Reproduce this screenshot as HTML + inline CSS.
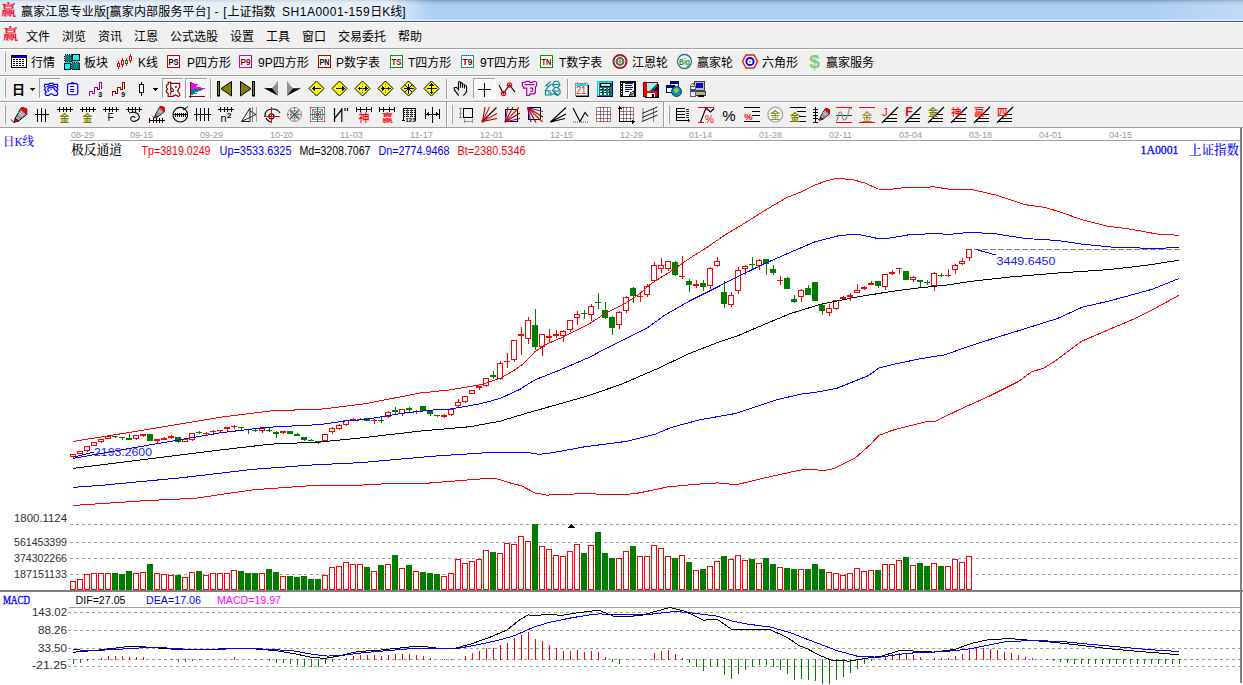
<!DOCTYPE html>
<html lang="zh"><head><meta charset="utf-8"><title>赢家江恩专业版</title>
<style>
*{box-sizing:border-box;margin:0;padding:0}
html,body{width:1243px;height:685px;overflow:hidden;background:#fff}
body{position:relative;font-family:"Liberation Sans","Noto Sans CJK SC",sans-serif;font-size:12px;color:#000}
.abs{position:absolute}
#title{left:0;top:0;width:1243px;height:21px;background:linear-gradient(#7b95b1 0,#8dabcb 1px,#9dbcde 2px,#a8c9ec 4px,#aed0f3 6px,#aed0f3 19px,#d9e8fa 20px,#dcebfc 21px)}
#title .glow{left:-10px;top:-2px;width:440px;height:24px;background:radial-gradient(ellipse 50% 60% at 50% 55%,rgba(238,243,248,.95) 0,rgba(232,239,246,.9) 70%,rgba(225,235,246,0) 100%);}
#title .glow2{left:-8px;top:-2px;width:440px;height:25px;background:linear-gradient(90deg,rgba(236,241,247,.93) 0,rgba(236,241,247,.93) 90%,rgba(236,241,247,0) 100%);filter:blur(3px)}
#tline{left:0;top:21px;width:1243px;height:1px;background:#4b5b6b}
#tline2{left:0;top:22px;width:1243px;height:1px;background:#fff}
#ui{left:0;top:23px;width:1243px;height:105px;background:#f0f0f0}
.ttext{left:21px;top:4px;font-size:12px;line-height:16px;white-space:pre;color:#000}
.logo{font-family:"Liberation Serif","Noto Serif CJK SC",serif;color:#f00828;font-weight:700}
.m{position:absolute;top:29px;line-height:16px;font-size:12px;white-space:pre}
.t{position:absolute;top:55px;line-height:16px;font-size:12px;white-space:pre}
.hl{position:absolute;left:0;width:1243px;height:1px}
svg{position:absolute;left:0;top:0;overflow:visible}
svg text{font-family:"Liberation Sans","Noto Sans CJK SC",sans-serif}
</style></head><body>
<div id="title" class="abs"><div class="abs glow2"></div><div class="abs" style="left:1150px;top:0;width:93px;height:20px;background:linear-gradient(90deg,rgba(255,255,255,0),rgba(255,255,255,.22))"></div></div>
<div id="tline" class="abs"></div><div id="tline2" class="abs"></div>
<div id="ui" class="abs"></div>
<div class="abs logo" style="left:1px;top:2px;font-size:15px;line-height:17px">赢</div>
<div class="abs ttext"><span style="letter-spacing:.16px">赢家江恩专业版[赢家内部服务平台]</span><span style="letter-spacing:.75px"> - [</span>上证指数  <span style="letter-spacing:.5px">SH1A0001-159</span>日K线]</div>
<div class="abs logo" style="left:3px;top:26px;font-size:15px;line-height:17px">赢</div>
<span class="m" style="left:26px">文件</span><span class="m" style="left:62px">浏览</span><span class="m" style="left:98px">资讯</span><span class="m" style="left:134px">江恩</span><span class="m" style="left:170px">公式选股</span><span class="m" style="left:230px">设置</span><span class="m" style="left:266px">工具</span><span class="m" style="left:302px">窗口</span><span class="m" style="left:338px">交易委托</span><span class="m" style="left:398px">帮助</span>
<div class="hl" style="top:48px;background:#a0a0a0"></div><div class="hl" style="top:49px;background:#fff"></div>
<div class="hl" style="top:75px;background:#a0a0a0"></div><div class="hl" style="top:76px;background:#fff"></div>
<div class="hl" style="top:101px;background:#a0a0a0"></div><div class="hl" style="top:102px;background:#fff"></div>
<div class="hl" style="top:127px;background:#a0a0a0"></div>
<span class="t" style="left:31px">行情</span><span class="t" style="left:84px">板块</span><span class="t" style="left:138px">K线</span><span class="t" style="left:187px">P四方形</span><span class="t" style="left:258px">9P四方形</span><span class="t" style="left:336px">P数字表</span><span class="t" style="left:408px">T四方形</span><span class="t" style="left:480px">9T四方形</span><span class="t" style="left:559px">T数字表</span><span class="t" style="left:632px">江恩轮</span><span class="t" style="left:697px">赢家轮</span><span class="t" style="left:762px">六角形</span><span class="t" style="left:826px">赢家服务</span>
<svg width="1243" height="130" viewBox="0 0 1243 130" style="position:absolute;left:0;top:0">
<g shape-rendering="crispEdges"><rect x="4" y="52" width="1" height="20" fill="#fff"/><rect x="5" y="52" width="1" height="20" fill="#a0a0a0"/></g>
<g shape-rendering="crispEdges"><rect x="4" y="79" width="1" height="19" fill="#fff"/><rect x="5" y="79" width="1" height="19" fill="#a0a0a0"/></g>
<g shape-rendering="crispEdges"><rect x="4" y="105" width="1" height="19" fill="#fff"/><rect x="5" y="105" width="1" height="19" fill="#a0a0a0"/></g>
<g shape-rendering="crispEdges"><rect x="451" y="105" width="1" height="19" fill="#fff"/><rect x="452" y="105" width="1" height="19" fill="#a0a0a0"/></g>
<g shape-rendering="crispEdges"><rect x="668" y="105" width="1" height="19" fill="#fff"/><rect x="669" y="105" width="1" height="19" fill="#a0a0a0"/></g>
<g shape-rendering="crispEdges"><rect x="210" y="79" width="1" height="20" fill="#a0a0a0"/><rect x="211" y="79" width="1" height="20" fill="#fff"/></g>
<g shape-rendering="crispEdges"><rect x="446" y="79" width="1" height="20" fill="#a0a0a0"/><rect x="447" y="79" width="1" height="20" fill="#fff"/></g>
<g shape-rendering="crispEdges"><rect x="567" y="79" width="1" height="20" fill="#a0a0a0"/><rect x="568" y="79" width="1" height="20" fill="#fff"/></g>
<g shape-rendering="crispEdges"><rect x="446" y="102" width="1" height="25" fill="#a0a0a0"/><rect x="447" y="102" width="1" height="25" fill="#fff"/></g>
<g shape-rendering="crispEdges"><rect x="663" y="102" width="1" height="25" fill="#a0a0a0"/><rect x="664" y="102" width="1" height="25" fill="#fff"/></g>
<g shape-rendering="crispEdges"><rect x="39" y="78" width="22" height="21" fill="#f9f9f9"/><rect x="39" y="78" width="22" height="1" fill="#a0a0a0"/><rect x="39" y="78" width="1" height="21" fill="#a0a0a0"/><rect x="39" y="98" width="22" height="1" fill="#fff"/><rect x="60" y="78" width="1" height="21" fill="#fff"/></g>
<g shape-rendering="crispEdges"><rect x="162" y="78" width="22" height="21" fill="#f9f9f9"/><rect x="162" y="78" width="22" height="1" fill="#a0a0a0"/><rect x="162" y="78" width="1" height="21" fill="#a0a0a0"/><rect x="162" y="98" width="22" height="1" fill="#fff"/><rect x="183" y="78" width="1" height="21" fill="#fff"/></g>
<g shape-rendering="crispEdges"><rect x="185" y="78" width="23" height="21" fill="#f9f9f9"/><rect x="185" y="78" width="23" height="1" fill="#a0a0a0"/><rect x="185" y="78" width="1" height="21" fill="#a0a0a0"/><rect x="185" y="98" width="23" height="1" fill="#fff"/><rect x="207" y="78" width="1" height="21" fill="#fff"/></g>
<g shape-rendering="crispEdges"><rect x="473" y="78" width="23" height="21" fill="#f9f9f9"/><rect x="473" y="78" width="23" height="1" fill="#a0a0a0"/><rect x="473" y="78" width="1" height="21" fill="#a0a0a0"/><rect x="473" y="98" width="23" height="1" fill="#fff"/><rect x="495" y="78" width="1" height="21" fill="#fff"/></g>
<g transform="translate(11,55)" shape-rendering="crispEdges">
<rect x="0.5" y="0.5" width="15" height="12" fill="#fff" stroke="#000" stroke-width="1"/>
<rect x="1" y="1" width="14" height="2" fill="#0000c0"/>
<rect x="2" y="4" width="2" height="1" fill="#000"/>
<rect x="5" y="4" width="2" height="1" fill="#000"/>
<rect x="8" y="4" width="2" height="1" fill="#000"/>
<rect x="11" y="4" width="2" height="1" fill="#000"/>
<rect x="2" y="6" width="2" height="1" fill="#000"/>
<rect x="5" y="6" width="2" height="1" fill="#000"/>
<rect x="8" y="6" width="2" height="1" fill="#000"/>
<rect x="11" y="6" width="2" height="1" fill="#000"/>
<rect x="2" y="8" width="2" height="1" fill="#000"/>
<rect x="5" y="8" width="2" height="1" fill="#000"/>
<rect x="8" y="8" width="2" height="1" fill="#000"/>
<rect x="11" y="8" width="2" height="1" fill="#000"/>
<rect x="2" y="10" width="2" height="1" fill="#000"/>
<rect x="5" y="10" width="2" height="1" fill="#000"/>
<rect x="8" y="10" width="2" height="1" fill="#000"/>
<rect x="11" y="10" width="2" height="1" fill="#000"/>
</g>
<g transform="translate(64,54)" shape-rendering="crispEdges">
<rect x="1" y="1" width="14" height="14" fill="#00e0e0"/>
<rect x="0.5" y="0.5" width="7" height="7" fill="#008080" stroke="#000" stroke-width="1" stroke-dasharray="1 1"/>
<rect x="8.5" y="0.5" width="7" height="6" fill="#00ffff" stroke="#000" stroke-width="1"/>
<rect x="0.5" y="9.5" width="6" height="6" fill="#00ffff" stroke="#000" stroke-width="1"/>
<rect x="7.5" y="8.5" width="8" height="7" fill="#008080" stroke="#000" stroke-width="1" stroke-dasharray="1 1"/>
</g>
<g transform="translate(117,54)" shape-rendering="crispEdges">
<rect x="1" y="7" width="1" height="8" fill="#ff0000"/>
<rect x="0.5" y="9.5" width="2" height="3" fill="#fff" stroke="#ff0000" stroke-width="1"/>
<rect x="5" y="4" width="1" height="9" fill="#ff0000"/>
<rect x="4.5" y="6.5" width="2" height="4" fill="#fff" stroke="#ff0000" stroke-width="1"/>
<rect x="9" y="4" width="1" height="8" fill="#008000"/>
<rect x="8.5" y="6.5" width="2" height="3" fill="#fff" stroke="#008000" stroke-width="1"/>
<rect x="13" y="0" width="1" height="9" fill="#ff0000"/>
<rect x="12.5" y="2.5" width="2" height="4" fill="#fff" stroke="#ff0000" stroke-width="1"/>
</g>
<g transform="translate(167,55)" shape-rendering="crispEdges">
<rect x="0.5" y="0.5" width="12" height="12" fill="#fff" stroke="#ff0000" stroke-width="1"/>
<rect x="0.5" y="0.5" width="12" height="12" fill="none" stroke="#000" stroke-width="1" stroke-dasharray="1 1" opacity="0.45"/>
</g>
<text x="173.5" y="65" font-size="8.5" fill="#000" font-weight="bold" text-anchor="middle" textLength="10" lengthAdjust="spacingAndGlyphs">PS</text>
<g transform="translate(239,55)" shape-rendering="crispEdges">
<rect x="0.5" y="0.5" width="12" height="12" fill="#fff" stroke="#ff00ff" stroke-width="1"/>
<rect x="0.5" y="0.5" width="12" height="12" fill="none" stroke="#000" stroke-width="1" stroke-dasharray="1 1" opacity="0.45"/>
</g>
<text x="245.5" y="65" font-size="8.5" fill="#900000" font-weight="bold" text-anchor="middle" textLength="10" lengthAdjust="spacingAndGlyphs">P9</text>
<g transform="translate(318,55)" shape-rendering="crispEdges">
<rect x="0.5" y="0.5" width="12" height="12" fill="#fff" stroke="#e00000" stroke-width="1"/>
<rect x="0.5" y="0.5" width="12" height="12" fill="none" stroke="#000" stroke-width="1" stroke-dasharray="1 1" opacity="0.45"/>
</g>
<text x="324.5" y="65" font-size="8.5" fill="#000" font-weight="bold" text-anchor="middle" textLength="10" lengthAdjust="spacingAndGlyphs">PN</text>
<g transform="translate(390,55)" shape-rendering="crispEdges">
<rect x="0.5" y="0.5" width="12" height="12" fill="#fff" stroke="#00c000" stroke-width="1"/>
<rect x="0.5" y="0.5" width="12" height="12" fill="none" stroke="#000" stroke-width="1" stroke-dasharray="1 1" opacity="0.45"/>
</g>
<text x="396.5" y="65" font-size="8.5" fill="#900000" font-weight="bold" text-anchor="middle" textLength="10" lengthAdjust="spacingAndGlyphs">TS</text>
<g transform="translate(461,55)" shape-rendering="crispEdges">
<rect x="0.5" y="0.5" width="12" height="12" fill="#fff" stroke="#00d0d0" stroke-width="1"/>
<rect x="0.5" y="0.5" width="12" height="12" fill="none" stroke="#000" stroke-width="1" stroke-dasharray="1 1" opacity="0.45"/>
</g>
<text x="467.5" y="65" font-size="8.5" fill="#900000" font-weight="bold" text-anchor="middle" textLength="10" lengthAdjust="spacingAndGlyphs">T9</text>
<g transform="translate(540,55)" shape-rendering="crispEdges">
<rect x="0.5" y="0.5" width="12" height="12" fill="#fff" stroke="#00c000" stroke-width="1"/>
<rect x="0.5" y="0.5" width="12" height="12" fill="none" stroke="#000" stroke-width="1" stroke-dasharray="1 1" opacity="0.45"/>
</g>
<text x="546.5" y="65" font-size="8.5" fill="#900000" font-weight="bold" text-anchor="middle" textLength="10" lengthAdjust="spacingAndGlyphs">TN</text>
<g transform="translate(0,0)">
<circle cx="620" cy="61.5" r="6.5" fill="#fff" stroke="#a01828" stroke-width="2"/>
<circle cx="620" cy="61.5" r="3.4" fill="#fff" stroke="#207838" stroke-width="2"/>
<circle cx="620" cy="61.5" r="1.2" fill="#e02020"/>
<line x1="620" y1="55" x2="620" y2="68" stroke="#c08080" stroke-width="0.6"/>
<line x1="613.5" y1="61.5" x2="626.5" y2="61.5" stroke="#c08080" stroke-width="0.6"/>
<circle cx="684.5" cy="61.5" r="7" fill="#fff" stroke="#306898" stroke-width="1.3"/>
<text x="684.5" y="65" font-size="9.5" fill="#209020" font-weight="bold" text-anchor="middle" textLength="11" lengthAdjust="spacingAndGlyphs">Big</text>
<polygon points="742.5,61.5 746,55 754,55 757.5,61.5 754,68 746,68" fill="#fff" stroke="#e02020" stroke-width="1.5"/>
<circle cx="750" cy="61.5" r="3.6" fill="#fff" stroke="#1010c0" stroke-width="2"/>
<circle cx="750" cy="61.5" r="1" fill="#40a0a0"/>
<text x="814.5" y="67.8" font-size="19" fill="#80cc70" font-weight="bold" text-anchor="middle">$</text>
</g>
<text x="12" y="94.3" font-size="13" fill="#000" font-weight="bold" text-anchor="start" style='font-family:"Liberation Sans","Noto Sans CJK SC",sans-serif'>日</text>
<g transform="translate(0,0)" shape-rendering="crispEdges">
<polygon points="30,88 35,88 32.5,90.5 " fill="#000"/>
<rect x="30" y="88" width="5" height="1" fill="#000"/>
<rect x="31" y="89" width="3" height="1" fill="#000"/>
<rect x="32" y="90" width="1" height="1" fill="#000"/>
</g>
<g transform="translate(0,0)">
<polygon points="44.5,84.3 49,84.3 49.6,83.4 52.8,83.4 53.4,84.3 57.6,84.3 57.6,86.6 56.3,87.5 57.6,88.6 57.6,90.4 55.8,90.6 57.6,92.2 57.6,94.4 56.6,95.4 54,95.4 52.2,94 50.2,94 48.6,95.4 46.2,95.4 45.2,94.4 45.2,93 46.6,92 44.3,89.6 45.6,88 44.5,86.6" fill="none" stroke="#0000ff" stroke-width="1.15"/>
<path d="M46.5,87 Q51,84.3 56,87 M47.5,90.3 Q48,87 51,87.3 Q54.5,87 55,90.3 M48,91.5 l1.5,-1 M50.5,89.5 l1,-1" fill="none" stroke="#0000ff" stroke-width="1.1"/>
<polygon points="51.2,93.2 50.4,94 52,94" fill="#0000ff"/>
</g>
<g transform="translate(0,0)">
<rect x="67.6" y="83.6" width="10.2" height="11.2" rx="1.8" fill="#f0f0f0" stroke="#0000ff" stroke-width="1.15"/>
<rect x="71" y="82.2" width="3" height="1.4" fill="#0000ff"/>
</g>
<g transform="translate(0,0)" shape-rendering="crispEdges">
<rect x="70" y="86" width="4" height="1" fill="#0000ff"/>
<rect x="70" y="89" width="4" height="1" fill="#0000ff"/>
<rect x="70" y="91" width="4" height="1" fill="#0000ff"/>
</g>
<g transform="translate(89,0)" shape-rendering="crispEdges">
<polyline points="0.5,95.5 0.5,91.5 3.5,91.5 3.5,93.5 5.5,93.5 5.5,87.5 8.5,87.5 8.5,89.5 10.5,89.5 10.5,82.5 12.5,82.5 12.5,88.5" fill="none" stroke="#a000a0" stroke-width="1.4"/>
</g>
<text x="98.3" y="96.5" font-size="7" fill="#000" font-weight="bold" text-anchor="start">3</text>
<g transform="translate(112,0)" shape-rendering="crispEdges">
<polyline points="0.5,95.5 0.5,91.5 3.5,91.5 3.5,93.5 5.5,93.5 5.5,87.5 8.5,87.5 8.5,89.5 10.5,89.5 10.5,82.5 12.5,82.5 12.5,88.5" fill="none" stroke="#a00000" stroke-width="1.4"/>
</g>
<text x="121.3" y="96.5" font-size="7" fill="#000" font-weight="bold" text-anchor="start">9</text>
<g transform="translate(0,0)" shape-rendering="crispEdges">
<rect x="141" y="82" width="1" height="14" fill="#000"/>
<rect x="139.5" y="84.5" width="4" height="8" fill="#fff" stroke="#000" stroke-width="1"/>
<polygon points="153,88 158,88 155.5,90.5" fill="#000"/>
<rect x="153" y="88" width="5" height="1" fill="#000"/>
<rect x="154" y="89" width="3" height="1" fill="#000"/>
<rect x="155" y="90" width="1" height="1" fill="#000"/>
</g>
<g transform="translate(0,0)">
<polygon points="168.2,82.4 170.7,82.4 170.7,83.4 179.7,83.4 179.7,87.3 178.5,88.5 178.5,89.7 177.3,90.9 179.7,93.7 179.7,95.7 177.9,96.5 175.7,94.9 173.3,95.7 173.3,96.5 168.2,96.5 168.2,93.3 166.4,92.1 166.4,90.5 167.3,89.7 167.3,88.5 166.4,87.5 166.4,85.4 168.2,84.4" fill="none" stroke="#900000" stroke-width="1.15"/>
<path d="M170.7,83.4 L170.7,88 M170.7,91.7 L170.7,95.5" fill="none" stroke="#900000" stroke-width="1.1"/>
<polygon points="170.7,88.5 171.7,88 173.3,89.7 173.3,91.3 171.7,91.7 170.7,90.5" fill="none" stroke="#900000" stroke-width="1.1"/>
<rect x="175" y="86.2" width="1.8" height="1.6" fill="#900000"/>
</g>
<g transform="translate(0,0)" shape-rendering="crispEdges">
<rect x="191" y="82" width="1" height="1" fill="#ff00ff"/>
<rect x="191" y="83" width="3" height="1" fill="#ff00ff"/>
<rect x="191" y="84" width="7" height="1" fill="#ff00ff"/>
<rect x="191" y="85" width="6" height="1" fill="#ff00ff"/>
<rect x="191" y="86" width="5" height="1" fill="#ff00ff"/>
<rect x="191" y="87" width="10" height="1" fill="#ff00ff"/>
<rect x="191" y="88" width="14" height="1" fill="#ff00ff"/>
<rect x="191" y="89" width="12" height="1" fill="#008080"/>
<rect x="191" y="90" width="10" height="1" fill="#008080"/>
<rect x="191" y="91" width="7" height="1" fill="#008080"/>
<rect x="191" y="92" width="4" height="1" fill="#008080"/>
<rect x="191" y="93" width="6" height="1" fill="#008080"/>
<rect x="191" y="94" width="2" height="1" fill="#008080"/>
<rect x="190" y="82" width="1" height="16" fill="#900000"/>
<rect x="189" y="96" width="16" height="1" fill="#900000"/>
</g>
<g transform="translate(0,0)">
<rect x="217.5" y="81.5" width="2" height="14.5" fill="#808000" stroke="#000" stroke-width="1"/>
<polygon points="231.5,81.5 231.5,96 221,88.7" fill="#808000" stroke="#000" stroke-width="1"/>
<polygon points="240.5,81.5 240.5,96 251,88.7" fill="#808000" stroke="#000" stroke-width="1"/>
<rect x="252.5" y="81.5" width="2" height="14.5" fill="#808000" stroke="#000" stroke-width="1"/>
<polygon points="264,88.3 278,81.2 272,88" fill="#fbfbfb"/>
<line x1="264.5" y1="88" x2="278" y2="81.2" stroke="#b0b0b0" stroke-width="0.8" stroke-dasharray="1 1"/>
<polygon points="278,81.2 278,95.8 272,88" fill="#909090"/>
<polygon points="264,88.3 272,88 278,95.8" fill="#000"/>
<polygon points="287,81.2 301,88.3 293,88.3" fill="#fbfbfb"/>
<line x1="287" y1="81.2" x2="300.5" y2="88" stroke="#b0b0b0" stroke-width="0.8" stroke-dasharray="1 1"/>
<polygon points="287,81.2 287,95.8 293,88.3" fill="#909090"/>
<polygon points="293,88.3 301,88.3 287,95.8" fill="#000"/>
</g>
<g transform="translate(0,0)">
<polygon points="309.0,88.5 316.5,81.0 324.0,88.5 316.5,96.0" fill="#ffff00" stroke="#000" stroke-width="1"/>
</g>
<g transform="translate(0,0)" shape-rendering="crispEdges">
<rect x="312.5" y="88.0" width="8" height="1" fill="#000"/>
<polygon points="311.5,88.5 314.5,85.5 314.5,91.5" fill="#000"/>
</g>
<g transform="translate(0,0)">
<polygon points="332.0,88.5 339.5,81.0 347.0,88.5 339.5,96.0" fill="#ffff00" stroke="#000" stroke-width="1"/>
</g>
<g transform="translate(0,0)" shape-rendering="crispEdges">
<rect x="335.5" y="88.0" width="8" height="1" fill="#000"/>
<polygon points="344.5,88.5 341.5,85.5 341.5,91.5" fill="#000"/>
</g>
<g transform="translate(0,0)">
<polygon points="355.0,88.5 362.5,81.0 370.0,88.5 362.5,96.0" fill="#ffff00" stroke="#000" stroke-width="1"/>
</g>
<g transform="translate(0,0)" shape-rendering="crispEdges">
<rect x="358.5" y="88.0" width="8" height="1" fill="#000"/>
<polygon points="357.5,88.5 360.0,86.0 360.0,91.0" fill="#000"/>
<polygon points="367.5,88.5 365.0,86.0 365.0,91.0" fill="#000"/>
<line x1="362.5" y1="83.5" x2="362.5" y2="93.5" stroke="#606000" stroke-width="1" stroke-dasharray="1 1"/>
</g>
<g transform="translate(0,0)">
<polygon points="378.0,88.5 385.5,81.0 393.0,88.5 385.5,96.0" fill="#ffff00" stroke="#000" stroke-width="1"/>
</g>
<g transform="translate(0,0)" shape-rendering="crispEdges">
<rect x="380.5" y="88.0" width="10" height="1" fill="#000"/>
<polygon points="384.5,88.5 382.0,86.0 382.0,91.0" fill="#000"/>
<polygon points="386.5,88.5 389.0,86.0 389.0,91.0" fill="#000"/>
<line x1="385.5" y1="83.5" x2="385.5" y2="93.5" stroke="#606000" stroke-width="1" stroke-dasharray="1 1"/>
</g>
<g transform="translate(0,0)">
<polygon points="401.0,88.5 408.5,81.0 416.0,88.5 408.5,96.0" fill="#ffff00" stroke="#000" stroke-width="1"/>
</g>
<g transform="translate(0,0)" shape-rendering="crispEdges">
<rect x="403.5" y="88.0" width="10" height="1" fill="#000"/>
<rect x="408.0" y="83.5" width="1" height="10" fill="#000"/>
<g shape-rendering="auto"><line x1="405.0" y1="85.0" x2="412.0" y2="92.0" stroke="#000"/><line x1="405.0" y1="92.0" x2="412.0" y2="85.0" stroke="#000"/></g>
</g>
<g transform="translate(0,0)">
<polygon points="424.0,88.5 431.5,81.0 439.0,88.5 431.5,96.0" fill="#ffff00" stroke="#000" stroke-width="1"/>
</g>
<g transform="translate(0,0)" shape-rendering="crispEdges">
<rect x="426.5" y="88.0" width="10" height="1" fill="#000"/>
<rect x="431.0" y="84.5" width="1" height="8" fill="#000"/>
<polygon points="431.5,82.5 429.0,85.5 434.0,85.5" fill="#000"/>
<polygon points="431.5,94.5 429.0,91.5 434.0,91.5" fill="#000"/>
</g>
<g transform="translate(0,0)">
<path d="M458.5,90.5 L458.5,82.4 Q459.5,80.6 460.5,82.4 L460.5,87.7 M461,82.8 Q462.3,82.6 462.5,84 L462.5,87.7 M463.3,84 Q464.5,84 464.5,85.5 L464.5,88.5 M465.3,85.2 Q466.6,85.6 466.6,87 L466.6,91.3 L465.5,93.3 L463.3,95.7 M458.5,89.3 L456.4,87.3 L454.3,87.7 L454.3,89.7 L458.7,95.7" fill="none" stroke="#000" stroke-width="1.1"/>
</g>
<g transform="translate(0,0)" shape-rendering="crispEdges">
<rect x="478" y="89" width="13" height="1" fill="#000"/>
<rect x="484" y="83" width="1" height="14" fill="#000"/>
</g>
<g transform="translate(0,0)">
<polyline points="499.1,85.3 503.4,93.5 509.5,85 514.9,91.8" fill="none" stroke="#000" stroke-width="1.1"/>
<circle cx="503.5" cy="93.5" r="2.1" fill="none" stroke="#ff0000" stroke-width="1.3"/>
<circle cx="509.5" cy="85" r="2.1" fill="none" stroke="#ff0000" stroke-width="1.3"/>
<polygon points="522.4,82.3 525.3,82.3 526.7,81.3 529.2,81.3 529.8,82.3 532.6,82.3 534.3,81.3 536.6,82.3 536.6,85.6 535.4,87 535.4,92.6 533.7,93.8 529.8,93.8 529.8,95.5 526.7,95.5 526.7,88.1 523.6,88.1 523.6,87 522.4,85.6" fill="none" stroke="#a000a0" stroke-width="1.2"/>
<path d="M524.5,84.6 L534.6,84.6 M529.8,88.1 L532.6,88.1 L532.6,91.2 L530,91.2" fill="none" stroke="#a000a0" stroke-width="1.1"/>
<path d="M550.5,81.3 L546,85.5 L548.5,86.5 L545.5,90.5 L545.5,95 L551,95 L551,93 L548,93 M548.5,86.5 L551.5,84 M546.5,90.8 L550.5,90.8" fill="none" stroke="#008888" stroke-width="1.15"/>
<path d="M554.5,81.3 L558,81.3 L560,85 L557.5,87.5 L560,90 L560,93.5 L557.5,95.5 L554,93.5 L552,94.5 M554.5,81.3 L552.5,85 L555,87.5 L552.5,90.5 L557.5,95 M555,87.5 L557.5,87.5 M553.5,84.5 L558.5,84.5 M553.5,91 L559,91" fill="none" stroke="#008888" stroke-width="1.1"/>
</g>
<g transform="translate(575,82)" shape-rendering="crispEdges">
<rect x="1" y="12.5" width="13" height="2" fill="#000"/>
<rect x="12" y="3" width="2" height="11.5" fill="#000"/>
<rect x="0.5" y="1.5" width="12" height="11.5" fill="#fff" stroke="#8c8c8c" stroke-width="1"/>
<polygon points="1,4 2.5,1.5 10.5,1.5 12,4" fill="#00e8e8"/>
<rect x="2" y="0" width="1" height="2" fill="#909090"/>
<rect x="10" y="0" width="1" height="2" fill="#909090"/>
</g>
<text x="581.2" y="94" font-size="10" fill="#ff0000" font-weight="normal" text-anchor="middle" textLength="10" lengthAdjust="spacingAndGlyphs">21</text>
<g transform="translate(597,81)" shape-rendering="crispEdges">
<rect x="0" y="0" width="16" height="16" fill="#000080"/>
<rect x="0" y="0" width="14.5" height="14.5" fill="#00d0d0"/>
<rect x="2" y="1.5" width="12.5" height="13" fill="#008080"/>
<rect x="1" y="1" width="1" height="13" fill="#fff" opacity="0.7"/>
<rect x="3.5" y="2.5" width="10" height="3" fill="#e0e0e0" stroke="#000" stroke-width="1"/>
<rect x="3.9" y="7.5" width="1.6" height="1.4" fill="#000"/>
<rect x="3.4" y="7" width="1.6" height="1.4" fill="#fff"/>
<rect x="7.6" y="7.5" width="1.6" height="1.4" fill="#000"/>
<rect x="7.1" y="7" width="1.6" height="1.4" fill="#fff"/>
<rect x="11.3" y="7.5" width="1.6" height="1.4" fill="#000"/>
<rect x="10.8" y="7" width="1.6" height="1.4" fill="#fff"/>
<rect x="3.9" y="10.2" width="1.6" height="1.4" fill="#000"/>
<rect x="3.4" y="9.7" width="1.6" height="1.4" fill="#fff"/>
<rect x="7.6" y="10.2" width="1.6" height="1.4" fill="#000"/>
<rect x="7.1" y="9.7" width="1.6" height="1.4" fill="#fff"/>
<rect x="11.3" y="10.2" width="1.6" height="1.4" fill="#000"/>
<rect x="10.8" y="9.7" width="1.6" height="1.4" fill="#fff"/>
<rect x="3.9" y="12.9" width="1.6" height="1.4" fill="#000"/>
<rect x="3.4" y="12.4" width="1.6" height="1.4" fill="#fff"/>
<rect x="7.6" y="12.9" width="1.6" height="1.4" fill="#000"/>
<rect x="7.1" y="12.4" width="1.6" height="1.4" fill="#fff"/>
<rect x="11.3" y="12.9" width="1.6" height="1.4" fill="#000"/>
<rect x="10.8" y="12.4" width="1.6" height="1.4" fill="#fff"/>
</g>
<g transform="translate(620,81)" shape-rendering="crispEdges">
<rect x="0" y="0" width="16" height="16" fill="#000"/>
<rect x="3" y="1.5" width="11" height="13" fill="#fff"/>
<rect x="1" y="2" width="1.2" height="1.2" fill="#fff"/>
<rect x="1" y="4.5" width="1.2" height="1.2" fill="#fff"/>
<rect x="1" y="7" width="1.2" height="1.2" fill="#fff"/>
<rect x="1" y="9.5" width="1.2" height="1.2" fill="#fff"/>
<rect x="1" y="12" width="1.2" height="1.2" fill="#fff"/>
<rect x="4.5" y="2" width="8" height="1" fill="#0000e0"/>
<rect x="4.5" y="4" width="7" height="1" fill="#0000e0"/>
<rect x="4.5" y="6.3" width="8" height="1" fill="#0000e0"/>
<rect x="4.5" y="8.3" width="7" height="1" fill="#0000e0"/>
<rect x="4.5" y="10.3" width="4" height="1" fill="#0000e0"/>
<polygon points="14,10.5 14,14.5 8.5,14.5" fill="#a0a0a0"/>
<polygon points="14,10.5 10,11.5 8.5,14.5" fill="#fff" stroke="#000" stroke-width="0.7"/>
</g>
<g transform="translate(643,82)" shape-rendering="crispEdges">
<rect x="2" y="2" width="14" height="14" fill="#000"/>
<rect x="0.5" y="0.5" width="14" height="14" fill="#ff0000" stroke="#800000" stroke-width="1"/>
<rect x="4" y="1" width="10" height="8" fill="#a0f0f0"/>
<polygon points="14,1 14,9 7,9" fill="#008040"/>
<polygon points="14,4 14,9 10,9" fill="#0000c0"/>
<rect x="4" y="11" width="8" height="4" fill="#fff"/>
<rect x="9" y="12" width="2" height="3" fill="#000"/>
</g>
<g transform="translate(666,81)" shape-rendering="crispEdges">
<rect x="4.5" y="0.5" width="8" height="7" fill="#fff" stroke="#000080" stroke-width="1"/>
<rect x="5" y="1" width="7" height="2" fill="#000080"/>
<rect x="0.5" y="4.5" width="8" height="7" fill="#fff" stroke="#000080" stroke-width="1"/>
<rect x="1" y="5" width="7" height="2" fill="#000080"/>
</g>
<g transform="translate(0,0)">
<circle cx="676.5" cy="91.5" r="5" fill="#0090c0" stroke="#004060" stroke-width="1"/>
<path d="M674,89 l3,-1 l2,2 l-2,3 l-3,-1 z" fill="#c0c020"/>
<path d="M678,93 l2,0 l-1,2 z" fill="#30a030"/>
</g>
<g transform="translate(689,81)" shape-rendering="crispEdges">
<rect x="5" y="0.5" width="10" height="9" fill="#c0c0a0" stroke="#404040" stroke-width="1"/>
<rect x="6.5" y="2" width="7" height="5" fill="#0000e0"/>
<rect x="4" y="10" width="12" height="4" fill="#b0b090" stroke="#404040" stroke-width="1"/>
<rect x="9" y="14" width="6" height="2" fill="#000"/>
<rect x="1.5" y="5.5" width="5" height="10" fill="#f0f0f0" stroke="#606060" stroke-width="1"/>
<rect x="2" y="8" width="4" height="3" fill="#2040c0"/>
<polyline points="1,5 4,2 6,5" fill="none" stroke="#606060" stroke-width="1"/>
</g>
<g transform="translate(11,107) scale(1.0)" shape-rendering="auto">
<polygon points="4,11.5 9.5,2 11,0.3 15.7,2 15.7,7.5 7.5,14" fill="#a8a8a8" stroke="#000" stroke-width="1"/>
<polygon points="9.5,2 11,0.3 15.7,2 15.7,7.5 12.5,5" fill="#ff0000" stroke="#c00000" stroke-width="0.6"/>
<polyline points="6,8.5 10,11.5" fill="none" stroke="#707070" stroke-width="1"/>
<polyline points="7.5,5.5 12,8.5" fill="none" stroke="#d0d0d0" stroke-width="1"/>
<polygon points="4,11.5 7.5,14 3,15.5" fill="#ff0000" stroke="#000" stroke-width="0.8"/>
<polyline points="0,12.5 3,15.5" fill="none" stroke="#000" stroke-width="1"/>
</g>
<g transform="translate(35,108)" shape-rendering="crispEdges">
<rect x="0" y="6" width="14" height="1" fill="#000"/>
<rect x="2" y="1" width="1" height="13" fill="#000"/>
<rect x="6" y="0" width="1" height="14" fill="#000"/>
<rect x="10" y="1" width="1" height="13" fill="#000"/>
</g>
<g transform="translate(57,107)" shape-rendering="crispEdges">
<rect x="0" y="2" width="16" height="1" fill="#000"/>
<rect x="2" y="0" width="1" height="5" fill="#000"/>
<rect x="6" y="0" width="1" height="5" fill="#000"/>
<rect x="9" y="0" width="1" height="5" fill="#000"/>
<rect x="13" y="0" width="1" height="5" fill="#000"/>
</g>
<text x="64.5" y="121.5" font-size="10" fill="#808000" font-weight="bold" text-anchor="middle" style='font-family:"Liberation Sans","Noto Sans CJK SC",sans-serif'>金</text>
<g transform="translate(80,107)" shape-rendering="crispEdges">
<rect x="0" y="2" width="16" height="1" fill="#000"/>
<rect x="2" y="0" width="1" height="5" fill="#000"/>
<rect x="6" y="0" width="1" height="5" fill="#000"/>
<rect x="9" y="0" width="1" height="5" fill="#000"/>
<rect x="13" y="0" width="1" height="5" fill="#000"/>
</g>
<text x="87.5" y="121.5" font-size="10" fill="#808000" font-weight="bold" text-anchor="middle" style='font-family:"Liberation Sans","Noto Sans CJK SC",sans-serif'>金</text>
<g transform="translate(103,107)" shape-rendering="crispEdges">
<rect x="0" y="2" width="16" height="1" fill="#000"/>
<rect x="2" y="0" width="1" height="5" fill="#000"/>
<rect x="6" y="0" width="1" height="5" fill="#000"/>
<rect x="9" y="0" width="1" height="5" fill="#000"/>
<rect x="13" y="0" width="1" height="5" fill="#000"/>
</g>
<text x="110.5" y="121" font-size="10" fill="#000" font-weight="normal" text-anchor="middle">F</text>
<g transform="translate(126,107)" shape-rendering="crispEdges">
<rect x="0" y="2" width="16" height="1" fill="#000"/>
<rect x="2" y="0" width="1" height="5" fill="#000"/>
<rect x="6" y="0" width="1" height="5" fill="#000"/>
<rect x="9" y="0" width="1" height="5" fill="#000"/>
<rect x="13" y="0" width="1" height="5" fill="#000"/>
</g>
<g transform="translate(0,0)">
<path d="M129,113 q6,-2 9,1 q3,4 -1,6.5 q-4,2 -6,-0.5 q-1,-3 2,-3.5 q2,0 2,1.5" fill="none" stroke="#000" stroke-width="1.1"/>
</g>
<g transform="translate(152,106) scale(0.78)" shape-rendering="auto">
<polygon points="4,11.5 9.5,2 11,0.3 15.7,2 15.7,7.5 7.5,14" fill="#a8a8a8" stroke="#000" stroke-width="1"/>
<polygon points="9.5,2 11,0.3 15.7,2 15.7,7.5 12.5,5" fill="#ff0000" stroke="#c00000" stroke-width="0.6"/>
<polyline points="6,8.5 10,11.5" fill="none" stroke="#707070" stroke-width="1"/>
<polyline points="7.5,5.5 12,8.5" fill="none" stroke="#d0d0d0" stroke-width="1"/>
<polygon points="4,11.5 7.5,14 3,15.5" fill="#ff0000" stroke="#000" stroke-width="0.8"/>
<polyline points="0,12.5 3,15.5" fill="none" stroke="#000" stroke-width="1"/>
</g>
<g transform="translate(149,118)" shape-rendering="crispEdges">
<rect x="0" y="2" width="16" height="1" fill="#000"/>
<rect x="0" y="0" width="1" height="5" fill="#000"/>
<rect x="4" y="0" width="1" height="5" fill="#000"/>
<rect x="7" y="0" width="1" height="5" fill="#000"/>
<rect x="10" y="0" width="1" height="5" fill="#000"/>
<rect x="13" y="0" width="1" height="5" fill="#000"/>
</g>
<g transform="translate(0,0)">
<circle cx="180.3" cy="114.7" r="7.3" fill="none" stroke="#000" stroke-width="1.1"/>
<line x1="183" y1="110" x2="188" y2="106.5" stroke="#000" stroke-width="1"/>
</g>
<g transform="translate(172,112)" shape-rendering="crispEdges">
<rect x="1" y="2" width="15" height="1" fill="#000"/>
<rect x="3" y="0.5" width="1" height="4" fill="#000"/>
<rect x="5" y="0.5" width="1" height="4" fill="#000"/>
<rect x="7" y="0.5" width="1" height="4" fill="#000"/>
<rect x="9" y="0.5" width="1" height="4" fill="#000"/>
<rect x="11" y="0.5" width="1" height="4" fill="#000"/>
<rect x="13" y="0.5" width="1" height="4" fill="#000"/>
</g>
<g transform="translate(194,108)" shape-rendering="crispEdges">
<rect x="0" y="6" width="17" height="1" fill="#000"/>
<rect x="2" y="0" width="1" height="13" fill="#000"/>
<rect x="6" y="0" width="1" height="13" fill="#000"/>
<rect x="10" y="0" width="1" height="13" fill="#000"/>
<rect x="14" y="0" width="1" height="13" fill="#000"/>
</g>
<g transform="translate(218,107)" shape-rendering="crispEdges">
<rect x="0" y="2" width="16" height="1" fill="#000"/>
<rect x="2" y="0" width="1" height="5" fill="#000"/>
<rect x="6" y="0" width="1" height="5" fill="#000"/>
<rect x="9" y="0" width="1" height="5" fill="#000"/>
<rect x="13" y="0" width="1" height="5" fill="#000"/>
</g>
<text x="220.5" y="122" font-size="11" fill="#000" font-weight="normal" text-anchor="start">n</text>
<text x="227" y="118" font-size="8" fill="#000" font-weight="bold" text-anchor="start">2</text>
<g transform="translate(0,0)">
<polygon points="241.5,121.5 250,108 250,121.5 " fill="none" stroke="#202020" stroke-width="1"/>
<polyline points="241.5,121.5 256,114.5 250,111" fill="none" stroke="#202020" stroke-width="1"/>
<line x1="252.5" y1="107" x2="252.5" y2="122" stroke="#808080" stroke-width="1"/>
<line x1="256.5" y1="107" x2="256.5" y2="122" stroke="#a0a0a0" stroke-width="1"/>
<path d="M265,116 q0,-7 7,-7 q6,0 8,4" fill="none" stroke="#000" stroke-width="1.1"/>
<circle cx="271.5" cy="116.3" r="2.6" fill="none" stroke="#000" stroke-width="1.1"/>
<path d="M266,118 q2,4 6,4" fill="none" stroke="#000" stroke-width="1.1"/>
</g>
<g transform="translate(0,0)" shape-rendering="crispEdges">
<rect x="264" y="116" width="16" height="1" fill="#ff0000"/>
<rect x="271" y="107" width="1" height="16" fill="#ff0000"/>
</g>
<g transform="translate(0,0)">
<circle cx="294.5" cy="114.5" r="7" fill="none" stroke="#909090" stroke-width="1"/>
<circle cx="294.5" cy="114.5" r="4" fill="none" stroke="#909090" stroke-width="1"/>
<line x1="290.0" y1="110.0" x2="299.0" y2="119.0" stroke="#008888" stroke-width="1.5"/>
<line x1="290.0" y1="119.0" x2="299.0" y2="110.0" stroke="#008888" stroke-width="1.5"/>
<line x1="287.0" y1="114.5" x2="302.0" y2="114.5" stroke="#ff0000" stroke-width="0.8" stroke-dasharray="2 1"/>
<line x1="294.5" y1="107.0" x2="294.5" y2="122.0" stroke="#ff0000" stroke-width="0.8" stroke-dasharray="2 1"/>
</g>
<g transform="translate(310,107)" shape-rendering="crispEdges">
<rect x="0.5" y="0.5" width="14" height="14" fill="#fff" stroke="#909090" stroke-width="1"/>
<rect x="2.5" y="2.5" width="10" height="10" fill="none" stroke="#909090" stroke-width="1"/>
<rect x="4.5" y="4.5" width="6" height="6" fill="none" stroke="#909090" stroke-width="1"/>
<rect x="0" y="7" width="15" height="1" fill="#008888"/>
<rect x="7" y="0" width="1" height="15" fill="#008888"/>
<rect x="0" y="0" width="1.4" height="1.4" fill="#ff0000"/>
<rect x="14" y="0" width="1.4" height="1.4" fill="#ff0000"/>
<rect x="0" y="14" width="1.4" height="1.4" fill="#ff0000"/>
<rect x="14" y="14" width="1.4" height="1.4" fill="#ff0000"/>
<rect x="7" y="7" width="1.4" height="1.4" fill="#ff0000"/>
<rect x="4" y="4" width="1.4" height="1.4" fill="#ff0000"/>
<rect x="10" y="4" width="1.4" height="1.4" fill="#ff0000"/>
<rect x="4" y="10" width="1.4" height="1.4" fill="#ff0000"/>
<rect x="10" y="10" width="1.4" height="1.4" fill="#ff0000"/>
</g>
<g transform="translate(0,0)">
<line x1="313" y1="110" x2="322" y2="119" stroke="#d04040" stroke-width="1"/>
<line x1="313" y1="119" x2="322" y2="110" stroke="#d04040" stroke-width="1"/>
</g>
<g transform="translate(0,0)">
<line x1="334.5" y1="108" x2="334.5" y2="122" stroke="#000" stroke-width="1.2"/>
<line x1="341.8" y1="108" x2="341.8" y2="122" stroke="#000" stroke-width="1.2"/>
<line x1="334.5" y1="118.5" x2="341.8" y2="109.5" stroke="#000" stroke-width="1.2"/>
<line x1="345" y1="108" x2="345" y2="111" stroke="#000" stroke-width="1.2"/>
<line x1="347.5" y1="108" x2="347.5" y2="111" stroke="#000" stroke-width="1.2"/>
</g>
<g transform="translate(356,107)" shape-rendering="crispEdges">
<rect x="0" y="2" width="16" height="1" fill="#000"/>
<rect x="0" y="0" width="1" height="5" fill="#000"/>
<rect x="4" y="0" width="1" height="5" fill="#000"/>
<rect x="10" y="0" width="1" height="5" fill="#000"/>
<rect x="15" y="0" width="1" height="5" fill="#000"/>
</g>
<text x="364" y="122" font-size="11" fill="#ff0000" font-weight="500" text-anchor="middle" style='font-family:"Liberation Sans","Noto Sans CJK SC",sans-serif'>神</text>
<g transform="translate(379,107)" shape-rendering="crispEdges">
<rect x="0" y="2" width="16" height="1" fill="#000"/>
<rect x="0" y="0" width="1" height="5" fill="#000"/>
<rect x="4" y="0" width="1" height="5" fill="#000"/>
<rect x="10" y="0" width="1" height="5" fill="#000"/>
<rect x="15" y="0" width="1" height="5" fill="#000"/>
</g>
<text x="387.5" y="122" font-size="11" fill="#ff0000" font-weight="500" text-anchor="middle" style='font-family:"Liberation Sans","Noto Sans CJK SC",sans-serif'>赢</text>
<g transform="translate(402,108)" shape-rendering="crispEdges">
<rect x="1" y="0" width="13" height="1" fill="#000"/>
<rect x="1" y="0" width="1" height="13" fill="#000"/>
<rect x="13" y="0" width="1" height="13" fill="#000"/>
<rect x="0" y="12" width="3" height="1" fill="#000"/>
<line x1="2" y1="2.5" x2="13" y2="2.5" stroke="#000" stroke-width="1" stroke-dasharray="1 1"/>
<line x1="2" y1="4.5" x2="13" y2="4.5" stroke="#000" stroke-width="1" stroke-dasharray="1 1"/>
<line x1="2" y1="6.5" x2="13" y2="6.5" stroke="#000" stroke-width="1" stroke-dasharray="1 1"/>
<line x1="2" y1="8.5" x2="13" y2="8.5" stroke="#000" stroke-width="1" stroke-dasharray="1 1"/>
<rect x="5" y="0" width="1" height="9" fill="#000" opacity="0.6"/>
<rect x="9" y="0" width="1" height="9" fill="#000" opacity="0.6"/>
</g>
<text x="410.5" y="122" font-size="5.5" fill="#000" font-weight="bold" text-anchor="middle" textLength="10" lengthAdjust="spacingAndGlyphs">123</text>
<g transform="translate(425,107)" shape-rendering="crispEdges">
<rect x="0" y="2" width="1" height="10" fill="#000"/>
<rect x="7" y="0" width="1" height="16" fill="#000"/>
<rect x="14" y="2" width="1" height="10" fill="#000"/>
<rect x="0" y="6.5" width="15" height="1" fill="#000"/>
<polygon points="1,7 4,4.5 4,9.5" fill="#000"/>
<polygon points="14,7 11,4.5 11,9.5" fill="#000"/>
</g>
<g transform="translate(459,107)" shape-rendering="crispEdges">
<rect x="4.5" y="1.5" width="9" height="9" fill="none" stroke="#000" stroke-width="1.3"/>
<rect x="1" y="1" width="1" height="10" fill="#909090"/>
<rect x="0" y="1" width="3" height="1" fill="#909090"/>
<rect x="0" y="5.5" width="3" height="1" fill="#909090"/>
<rect x="0" y="10" width="3" height="1" fill="#909090"/>
<rect x="5" y="12" width="1" height="4" fill="#909090"/>
<rect x="13" y="12" width="1" height="4" fill="#909090"/>
<rect x="5" y="13.5" width="9" height="1" fill="#909090"/>
</g>
<g transform="translate(0,0)">
<line x1="482.5" y1="121.5" x2="485" y2="107" stroke="#900000" stroke-width="1.1"/>
<line x1="482.5" y1="121.5" x2="489.5" y2="107" stroke="#ff0000" stroke-width="1.1"/>
<line x1="482.5" y1="121.5" x2="496.5" y2="107.5" stroke="#000" stroke-width="1.1"/>
<line x1="482.5" y1="121.5" x2="497" y2="113.5" stroke="#ff0000" stroke-width="1.1"/>
<line x1="482.5" y1="121.5" x2="497" y2="118.5" stroke="#900000" stroke-width="1.1"/>
<rect x="481.5" y="120" width="2.5" height="2.5" fill="#d00000"/>
<rect x="505.5" y="109.5" width="12" height="12" fill="none" stroke="#000" stroke-width="1" shape-rendering="crispEdges"/>
<line x1="505" y1="122" x2="508" y2="107" stroke="#8000a0" stroke-width="1.1"/>
<line x1="505" y1="122" x2="513" y2="107" stroke="#900000" stroke-width="1.1"/>
<line x1="505" y1="122" x2="519" y2="107.5" stroke="#ff0000" stroke-width="1.1"/>
<line x1="505" y1="122" x2="520" y2="113" stroke="#900000" stroke-width="1.1"/>
<line x1="505" y1="122" x2="520" y2="118.5" stroke="#8000a0" stroke-width="1.1"/>
<rect x="528.5" y="107.5" width="12" height="12" fill="none" stroke="#000" stroke-width="1" shape-rendering="crispEdges"/>
<line x1="527.5" y1="107.5" x2="531" y2="122" stroke="#8000a0" stroke-width="1.1"/>
<line x1="527.5" y1="107.5" x2="536" y2="122.5" stroke="#900000" stroke-width="1.1"/>
<line x1="527.5" y1="107.5" x2="542.5" y2="122" stroke="#ff0000" stroke-width="1.1"/>
<line x1="527.5" y1="107.5" x2="543" y2="117" stroke="#900000" stroke-width="1.1"/>
<line x1="527.5" y1="107.5" x2="543" y2="111.5" stroke="#8000a0" stroke-width="1.1"/>
<line x1="550.5" y1="122" x2="566" y2="107.5" stroke="#000" stroke-width="1.1"/>
<line x1="550.5" y1="122" x2="566" y2="114" stroke="#000" stroke-width="1.1"/>
<line x1="550.5" y1="122" x2="565" y2="118.5" stroke="#000" stroke-width="1.1"/>
<polygon points="550.5,122 554,118.5 555.5,121" fill="#000"/>
<polyline points="573,108 580,121.5 585,112.5 588,116.5" fill="none" stroke="#000" stroke-width="1.1"/>
<line x1="573" y1="122" x2="588" y2="122" stroke="#404040" stroke-width="1" stroke-dasharray="1 1"/>
</g>
<g transform="translate(596,107)" shape-rendering="crispEdges">
<rect x="0" y="0" width="15" height="15" fill="#fff"/>
<rect x="0" y="0" width="1.2" height="15" fill="#888"/>
<rect x="0" y="0" width="15" height="1.2" fill="#888"/>
<rect x="3.5" y="0" width="1.2" height="15" fill="#888"/>
<rect x="0" y="3.5" width="15" height="1.2" fill="#888"/>
<rect x="7" y="0" width="1.2" height="15" fill="#888"/>
<rect x="0" y="7" width="15" height="1.2" fill="#888"/>
<rect x="10.5" y="0" width="1.2" height="15" fill="#888"/>
<rect x="0" y="10.5" width="15" height="1.2" fill="#888"/>
<rect x="14" y="0" width="1.2" height="15" fill="#888"/>
<rect x="0" y="14" width="15" height="1.2" fill="#888"/>
<rect x="0" y="7" width="1.3" height="1.3" fill="#ff0000"/>
<rect x="3.5" y="0" width="1.3" height="1.3" fill="#ff0000"/>
<rect x="3.5" y="3.5" width="1.3" height="1.3" fill="#ff0000"/>
<rect x="3.5" y="7" width="1.3" height="1.3" fill="#ff0000"/>
<rect x="3.5" y="10.5" width="1.3" height="1.3" fill="#ff0000"/>
<rect x="3.5" y="14" width="1.3" height="1.3" fill="#ff0000"/>
<rect x="7" y="0" width="1.3" height="1.3" fill="#ff0000"/>
<rect x="7" y="7" width="1.3" height="1.3" fill="#ff0000"/>
<rect x="7" y="14" width="1.3" height="1.3" fill="#ff0000"/>
<rect x="10.5" y="0" width="1.3" height="1.3" fill="#ff0000"/>
<rect x="10.5" y="3.5" width="1.3" height="1.3" fill="#ff0000"/>
<rect x="10.5" y="7" width="1.3" height="1.3" fill="#ff0000"/>
<rect x="10.5" y="10.5" width="1.3" height="1.3" fill="#ff0000"/>
<rect x="10.5" y="14" width="1.3" height="1.3" fill="#ff0000"/>
<rect x="14" y="7" width="1.3" height="1.3" fill="#ff0000"/>
</g>
<g transform="translate(619,107)" shape-rendering="crispEdges">
<rect x="0" y="0" width="15" height="15" fill="#fff"/>
<rect x="0" y="0" width="1.2" height="15" fill="#888"/>
<rect x="0" y="0" width="15" height="1.2" fill="#888"/>
<rect x="3.5" y="0" width="1.2" height="15" fill="#888"/>
<rect x="0" y="3.5" width="15" height="1.2" fill="#888"/>
<rect x="7" y="0" width="1.2" height="15" fill="#888"/>
<rect x="0" y="7" width="15" height="1.2" fill="#888"/>
<rect x="10.5" y="0" width="1.2" height="15" fill="#888"/>
<rect x="0" y="10.5" width="15" height="1.2" fill="#888"/>
<rect x="14" y="0" width="1.2" height="15" fill="#888"/>
<rect x="0" y="14" width="15" height="1.2" fill="#888"/>
<rect x="0" y="7" width="1.3" height="1.3" fill="#ff0000"/>
<rect x="3.5" y="0" width="1.3" height="1.3" fill="#ff0000"/>
<rect x="3.5" y="3.5" width="1.3" height="1.3" fill="#ff0000"/>
<rect x="3.5" y="7" width="1.3" height="1.3" fill="#ff0000"/>
<rect x="3.5" y="10.5" width="1.3" height="1.3" fill="#ff0000"/>
<rect x="3.5" y="14" width="1.3" height="1.3" fill="#ff0000"/>
<rect x="7" y="0" width="1.3" height="1.3" fill="#ff0000"/>
<rect x="7" y="7" width="1.3" height="1.3" fill="#ff0000"/>
<rect x="7" y="14" width="1.3" height="1.3" fill="#ff0000"/>
<rect x="10.5" y="0" width="1.3" height="1.3" fill="#ff0000"/>
<rect x="10.5" y="3.5" width="1.3" height="1.3" fill="#ff0000"/>
<rect x="10.5" y="7" width="1.3" height="1.3" fill="#ff0000"/>
<rect x="10.5" y="10.5" width="1.3" height="1.3" fill="#ff0000"/>
<rect x="10.5" y="14" width="1.3" height="1.3" fill="#ff0000"/>
<rect x="14" y="7" width="1.3" height="1.3" fill="#ff0000"/>
<rect x="0" y="0" width="1.4" height="15" fill="#000"/>
<rect x="0" y="14" width="15" height="1.4" fill="#000"/>
<polygon points="0.7,-1 -1.5,2 3,2" fill="#000"/>
<polygon points="16,14.7 13,12.5 13,17" fill="#000"/>
</g>
<g transform="translate(0,0)">
<line x1="643" y1="108" x2="643" y2="122" stroke="#808080" stroke-width="1"/>
<line x1="653.5" y1="108" x2="653.5" y2="122" stroke="#808080" stroke-width="1"/>
<line x1="642" y1="113.5" x2="657.5" y2="107" stroke="#202020" stroke-width="1"/>
<line x1="642" y1="117.5" x2="657.5" y2="111" stroke="#202020" stroke-width="1"/>
<line x1="642" y1="121.5" x2="657.5" y2="115" stroke="#202020" stroke-width="1"/>
</g>
<g transform="translate(676,108)" shape-rendering="crispEdges">
<rect x="0" y="0" width="1.4" height="13" fill="#000"/>
<rect x="0" y="12" width="14" height="1.4" fill="#000"/>
<rect x="0" y="0" width="9" height="1" fill="#000"/>
<rect x="0" y="3" width="9" height="1" fill="#000"/>
<rect x="0" y="6" width="9" height="1" fill="#000"/>
<rect x="0" y="9" width="9" height="1" fill="#000"/>
<rect x="10" y="1" width="3" height="1" fill="#000" opacity="0.8"/>
<rect x="10" y="3" width="3" height="1" fill="#000" opacity="0.8"/>
<rect x="10" y="5" width="3" height="1" fill="#000" opacity="0.8"/>
<rect x="10" y="7" width="3" height="1" fill="#000" opacity="0.8"/>
<rect x="10" y="9" width="3" height="1" fill="#000" opacity="0.8"/>
<polygon points="14,12.5 11.5,10.5 11.5,14.5" fill="#000"/>
</g>
<g transform="translate(0,0)" shape-rendering="crispEdges">
<rect x="698" y="107" width="16" height="1.4" fill="#ff0000"/>
<rect x="698" y="121.5" width="6" height="1.4" fill="#ff0000"/>
</g>
<g transform="translate(0,0)">
<polyline points="700.5,122 706,108 710.5,112 714,108.5" fill="none" stroke="#000" stroke-width="1.1"/>
<text x="709.5" y="122.5" font-size="10" fill="#ff0000" font-weight="normal" text-anchor="middle">%</text>
<text x="729" y="120.7" font-size="15" fill="#000" font-weight="normal" text-anchor="middle">%</text>
</g>
<g transform="translate(744,107)" shape-rendering="crispEdges">
<rect x="0" y="0" width="16" height="1.3" fill="#000"/>
<rect x="8" y="3.5" width="8" height="1.3" fill="#000"/>
<rect x="8" y="8" width="8" height="1.3" fill="#000"/>
<rect x="0" y="14" width="16" height="1.3" fill="#000"/>
</g>
<text x="748.5" y="120" font-size="9.5" fill="#ff0000" font-weight="bold" text-anchor="middle">%</text>
<g transform="translate(0,0)">
<circle cx="775.3" cy="114.6" r="7.4" fill="#f8f8f8" stroke="#a0a0a0" stroke-width="1.2"/>
</g>
<text x="775.3" y="119" font-size="10.5" fill="#808000" font-weight="normal" text-anchor="middle" style='font-family:"Liberation Sans","Noto Sans CJK SC",sans-serif'>金</text>
<g transform="translate(790,107)" shape-rendering="crispEdges">
<rect x="0" y="0" width="16" height="1.3" fill="#000"/>
<rect x="7" y="3.5" width="9" height="1.3" fill="#000"/>
<rect x="9" y="8.5" width="7" height="1.3" fill="#000"/>
<rect x="0" y="14" width="16" height="1.3" fill="#000"/>
</g>
<text x="795" y="120.5" font-size="10" fill="#808000" font-weight="bold" text-anchor="middle" style='font-family:"Liberation Sans","Noto Sans CJK SC",sans-serif'>金</text>
<g transform="translate(813,107)" shape-rendering="crispEdges">
<rect x="2" y="0" width="1" height="16" fill="#000"/>
<rect x="0" y="2" width="5" height="1" fill="#000"/>
<rect x="0" y="5" width="5" height="1" fill="#000"/>
<rect x="0" y="8" width="5" height="1" fill="#000"/>
<rect x="0" y="11" width="5" height="1" fill="#000"/>
<rect x="0" y="15" width="5" height="1" fill="#000"/>
</g>
<g transform="translate(817,108) scale(0.8)" shape-rendering="auto">
<polygon points="4,11.5 9.5,2 11,0.3 15.7,2 15.7,7.5 7.5,14" fill="#a8a8a8" stroke="#000" stroke-width="1"/>
<polygon points="9.5,2 11,0.3 15.7,2 15.7,7.5 12.5,5" fill="#ff0000" stroke="#c00000" stroke-width="0.6"/>
<polyline points="6,8.5 10,11.5" fill="none" stroke="#707070" stroke-width="1"/>
<polyline points="7.5,5.5 12,8.5" fill="none" stroke="#d0d0d0" stroke-width="1"/>
<polygon points="4,11.5 7.5,14 3,15.5" fill="#ff0000" stroke="#000" stroke-width="0.8"/>
<polyline points="0,12.5 3,15.5" fill="none" stroke="#000" stroke-width="1"/>
</g>
<g transform="translate(836,107)" shape-rendering="crispEdges">
<rect x="0" y="0" width="16" height="1.3" fill="#ff0000"/>
<rect x="0" y="15" width="16" height="1.3" fill="#ff0000"/>
<rect x="0" y="7.5" width="16" height="1" fill="#303030"/>
</g>
<g transform="translate(0,0)">
<path d="M836,121 q1,0 2,-4 q2,-9 4,-2 q1,7 4,4 q2,-3 3,-9 q1,-3 3,-1" fill="none" stroke="#909090" stroke-width="1.2"/>
</g>
<g transform="translate(859,107)" shape-rendering="crispEdges">
<rect x="0" y="0" width="16" height="1.3" fill="#ff0000"/>
<rect x="0" y="15" width="16" height="1.3" fill="#ff0000"/>
</g>
<text x="867" y="120.5" font-size="11" fill="#808000" font-weight="normal" text-anchor="middle" style='font-family:"Liberation Sans","Noto Sans CJK SC",sans-serif'>金</text>
<g transform="translate(0,0)">
<line x1="882" y1="122.7" x2="898" y2="107" stroke="#000" stroke-width="1.2"/>
</g>
<g transform="translate(0,0)" shape-rendering="crispEdges">
<rect x="890.5" y="114" width="6.5" height="1.3" fill="#000"/>
<rect x="887" y="117.7" width="10" height="1.3" fill="#000"/>
<rect x="883.5" y="121" width="13.5" height="1.3" fill="#000"/>
</g>
<text x="882" y="115.7" font-size="11.5" fill="#ff0000" font-weight="normal" text-anchor="start">J</text>
<g transform="translate(0,0)">
<line x1="905" y1="122.7" x2="921" y2="107" stroke="#000" stroke-width="1.2"/>
</g>
<g transform="translate(0,0)" shape-rendering="crispEdges">
<rect x="913.5" y="114" width="6.5" height="1.3" fill="#000"/>
<rect x="910" y="117.7" width="10" height="1.3" fill="#000"/>
<rect x="906.5" y="121" width="13.5" height="1.3" fill="#000"/>
</g>
<text x="905.3" y="116.3" font-size="12.5" fill="#ff0000" font-weight="bold" text-anchor="start">F</text>
<g transform="translate(0,0)">
<line x1="928" y1="122.7" x2="944" y2="107" stroke="#000" stroke-width="1.2"/>
</g>
<g transform="translate(0,0)" shape-rendering="crispEdges">
<rect x="936.5" y="114" width="6.5" height="1.3" fill="#000"/>
<rect x="933" y="117.7" width="10" height="1.3" fill="#000"/>
<rect x="929.5" y="121" width="13.5" height="1.3" fill="#000"/>
</g>
<text x="928" y="116" font-size="10" fill="#808000" font-weight="bold" text-anchor="start" style='font-family:"Liberation Sans","Noto Sans CJK SC",sans-serif'>金</text>
<g transform="translate(0,0)">
<line x1="951" y1="122.7" x2="967" y2="107" stroke="#000" stroke-width="1.2"/>
</g>
<g transform="translate(0,0)" shape-rendering="crispEdges">
<rect x="959.5" y="114" width="6.5" height="1.3" fill="#000"/>
<rect x="956" y="117.7" width="10" height="1.3" fill="#000"/>
<rect x="952.5" y="121" width="13.5" height="1.3" fill="#000"/>
</g>
<text x="951" y="116" font-size="10.5" fill="#ff0000" font-weight="500" text-anchor="start" style='font-family:"Liberation Sans","Noto Sans CJK SC",sans-serif'>神</text>
<g transform="translate(0,0)">
<line x1="974" y1="122.7" x2="990" y2="107" stroke="#000" stroke-width="1.2"/>
</g>
<g transform="translate(0,0)" shape-rendering="crispEdges">
<rect x="982.5" y="114" width="6.5" height="1.3" fill="#000"/>
<rect x="979" y="117.7" width="10" height="1.3" fill="#000"/>
<rect x="975.5" y="121" width="13.5" height="1.3" fill="#000"/>
</g>
<text x="974" y="116" font-size="10.5" fill="#ff0000" font-weight="500" text-anchor="start" style='font-family:"Liberation Sans","Noto Sans CJK SC",sans-serif'>赢</text>
<g transform="translate(0,0)">
<line x1="997" y1="122.7" x2="1013" y2="107" stroke="#000" stroke-width="1.2"/>
</g>
<g transform="translate(0,0)" shape-rendering="crispEdges">
<rect x="1005.5" y="114" width="6.5" height="1.3" fill="#000"/>
<rect x="1002" y="117.7" width="10" height="1.3" fill="#000"/>
<rect x="998.5" y="121" width="13.5" height="1.3" fill="#000"/>
</g>
<text x="997" y="116" font-size="10.5" fill="#ff0000" font-weight="500" text-anchor="start" style='font-family:"Liberation Sans","Noto Sans CJK SC",sans-serif'>四</text>
</svg><svg width="1243" height="685" viewBox="0 0 1243 685">
<rect x="0" y="128" width="1243" height="557" fill="#fff"/>
<g shape-rendering="crispEdges">
<rect x="1240" y="128" width="2" height="555" fill="#808080"/>
<rect x="70" y="140" width="1170" height="1" fill="#a0a0a0"/>
<rect x="0" y="590" width="1243" height="2" fill="#808080"/>
<rect x="69" y="607" width="1171" height="1" fill="#a0a0a0"/>
<line x1="70" y1="524.5" x2="1240" y2="524.5" stroke="#a0a0a0" stroke-width="1" stroke-dasharray="3 3"/>
<line x1="70" y1="542.5" x2="1240" y2="542.5" stroke="#a0a0a0" stroke-width="1" stroke-dasharray="3 3"/>
<line x1="70" y1="558.5" x2="1240" y2="558.5" stroke="#a0a0a0" stroke-width="1" stroke-dasharray="3 3"/>
<line x1="70" y1="574.5" x2="1240" y2="574.5" stroke="#a0a0a0" stroke-width="1" stroke-dasharray="3 3"/>
<line x1="68" y1="612.5" x2="1240" y2="612.5" stroke="#a0a0a0" stroke-width="1" stroke-dasharray="3 3"/>
<line x1="68" y1="630.5" x2="1240" y2="630.5" stroke="#a0a0a0" stroke-width="1" stroke-dasharray="3 3"/>
<line x1="68" y1="648.5" x2="1240" y2="648.5" stroke="#a0a0a0" stroke-width="1" stroke-dasharray="3 3"/>
<line x1="68" y1="659.5" x2="1240" y2="659.5" stroke="#a0a0a0" stroke-width="1" stroke-dasharray="3 3"/>
<line x1="68" y1="666.5" x2="1240" y2="666.5" stroke="#a0a0a0" stroke-width="1" stroke-dasharray="3 3"/>
<rect x="70.5" y="581.5" width="5" height="8" fill="#fff" stroke="#ff0000"/>
<rect x="77.5" y="579.5" width="5" height="10" fill="#fff" stroke="#ff0000"/>
<rect x="84.5" y="574.5" width="5" height="15" fill="#fff" stroke="#ff0000"/>
<rect x="91.5" y="573.5" width="5" height="16" fill="#fff" stroke="#ff0000"/>
<rect x="98.5" y="573.5" width="5" height="16" fill="#fff" stroke="#ff0000"/>
<rect x="105.5" y="573.5" width="5" height="16" fill="#fff" stroke="#ff0000"/>
<rect x="112" y="573" width="6" height="17" fill="#007c00"/>
<rect x="119" y="574" width="6" height="16" fill="#007c00"/>
<rect x="126" y="571" width="6" height="19" fill="#007c00"/>
<rect x="133.5" y="573.5" width="5" height="16" fill="#fff" stroke="#ff0000"/>
<rect x="140.5" y="572.5" width="5" height="17" fill="#fff" stroke="#ff0000"/>
<rect x="147" y="564" width="6" height="26" fill="#007c00"/>
<rect x="154.5" y="573.5" width="5" height="16" fill="#fff" stroke="#ff0000"/>
<rect x="161.5" y="574.5" width="5" height="15" fill="#fff" stroke="#ff0000"/>
<rect x="168.5" y="575.5" width="5" height="14" fill="#fff" stroke="#ff0000"/>
<rect x="175" y="575" width="6" height="15" fill="#007c00"/>
<rect x="182.5" y="577.5" width="5" height="12" fill="#fff" stroke="#ff0000"/>
<rect x="189.5" y="572.5" width="5" height="17" fill="#fff" stroke="#ff0000"/>
<rect x="196" y="571" width="6" height="19" fill="#007c00"/>
<rect x="203.5" y="575.5" width="5" height="14" fill="#fff" stroke="#ff0000"/>
<rect x="210.5" y="573.5" width="5" height="16" fill="#fff" stroke="#ff0000"/>
<rect x="217.5" y="573.5" width="5" height="16" fill="#fff" stroke="#ff0000"/>
<rect x="224.5" y="573.5" width="5" height="16" fill="#fff" stroke="#ff0000"/>
<rect x="231.5" y="570.5" width="5" height="19" fill="#fff" stroke="#ff0000"/>
<rect x="238" y="571" width="6" height="19" fill="#007c00"/>
<rect x="245" y="573" width="6" height="17" fill="#007c00"/>
<rect x="252" y="573" width="6" height="17" fill="#007c00"/>
<rect x="259.5" y="573.5" width="5" height="16" fill="#fff" stroke="#ff0000"/>
<rect x="266" y="569" width="6" height="21" fill="#007c00"/>
<rect x="273" y="572" width="6" height="18" fill="#007c00"/>
<rect x="280.5" y="576.5" width="5" height="13" fill="#fff" stroke="#ff0000"/>
<rect x="287" y="576" width="6" height="14" fill="#007c00"/>
<rect x="294" y="577" width="6" height="13" fill="#007c00"/>
<rect x="301" y="576" width="6" height="14" fill="#007c00"/>
<rect x="308" y="579" width="6" height="11" fill="#007c00"/>
<rect x="315" y="579" width="6" height="11" fill="#007c00"/>
<rect x="322.5" y="575.5" width="5" height="14" fill="#fff" stroke="#ff0000"/>
<rect x="329.5" y="567.5" width="5" height="22" fill="#fff" stroke="#ff0000"/>
<rect x="336.5" y="566.5" width="5" height="23" fill="#fff" stroke="#ff0000"/>
<rect x="343.5" y="562.5" width="5" height="27" fill="#fff" stroke="#ff0000"/>
<rect x="350.5" y="564.5" width="5" height="25" fill="#fff" stroke="#ff0000"/>
<rect x="357.5" y="564.5" width="5" height="25" fill="#fff" stroke="#ff0000"/>
<rect x="364" y="567" width="6" height="23" fill="#007c00"/>
<rect x="371.5" y="571.5" width="5" height="18" fill="#fff" stroke="#ff0000"/>
<rect x="378" y="565" width="6" height="25" fill="#007c00"/>
<rect x="385.5" y="564.5" width="5" height="25" fill="#fff" stroke="#ff0000"/>
<rect x="392" y="555" width="6" height="35" fill="#007c00"/>
<rect x="399.5" y="568.5" width="5" height="21" fill="#fff" stroke="#ff0000"/>
<rect x="406" y="565" width="6" height="25" fill="#007c00"/>
<rect x="413.5" y="571.5" width="5" height="18" fill="#fff" stroke="#ff0000"/>
<rect x="420" y="572" width="6" height="18" fill="#007c00"/>
<rect x="427" y="573" width="6" height="17" fill="#007c00"/>
<rect x="434" y="574" width="6" height="16" fill="#007c00"/>
<rect x="441.5" y="576.5" width="5" height="13" fill="#fff" stroke="#ff0000"/>
<rect x="448.5" y="573.5" width="5" height="16" fill="#fff" stroke="#ff0000"/>
<rect x="455.5" y="559.5" width="5" height="30" fill="#fff" stroke="#ff0000"/>
<rect x="462.5" y="563.5" width="5" height="26" fill="#fff" stroke="#ff0000"/>
<rect x="469.5" y="561.5" width="5" height="28" fill="#fff" stroke="#ff0000"/>
<rect x="476.5" y="559.5" width="5" height="30" fill="#fff" stroke="#ff0000"/>
<rect x="483.5" y="550.5" width="5" height="39" fill="#fff" stroke="#ff0000"/>
<rect x="490" y="552" width="6" height="38" fill="#007c00"/>
<rect x="497.5" y="553.5" width="5" height="36" fill="#fff" stroke="#ff0000"/>
<rect x="504.5" y="543.5" width="5" height="46" fill="#fff" stroke="#ff0000"/>
<rect x="511.5" y="544.5" width="5" height="45" fill="#fff" stroke="#ff0000"/>
<rect x="518.5" y="536.5" width="5" height="53" fill="#fff" stroke="#ff0000"/>
<rect x="525.5" y="541.5" width="5" height="48" fill="#fff" stroke="#ff0000"/>
<rect x="532" y="524" width="6" height="66" fill="#007c00"/>
<rect x="539.5" y="546.5" width="5" height="43" fill="#fff" stroke="#ff0000"/>
<rect x="546.5" y="549.5" width="5" height="40" fill="#fff" stroke="#ff0000"/>
<rect x="553.5" y="555.5" width="5" height="34" fill="#fff" stroke="#ff0000"/>
<rect x="560.5" y="556.5" width="5" height="33" fill="#fff" stroke="#ff0000"/>
<rect x="567.5" y="551.5" width="5" height="38" fill="#fff" stroke="#ff0000"/>
<rect x="574.5" y="544.5" width="5" height="45" fill="#fff" stroke="#ff0000"/>
<rect x="581" y="553" width="6" height="37" fill="#007c00"/>
<rect x="588.5" y="545.5" width="5" height="44" fill="#fff" stroke="#ff0000"/>
<rect x="595" y="532" width="6" height="58" fill="#007c00"/>
<rect x="602" y="553" width="6" height="37" fill="#007c00"/>
<rect x="609" y="558" width="6" height="32" fill="#007c00"/>
<rect x="616.5" y="558.5" width="5" height="31" fill="#fff" stroke="#ff0000"/>
<rect x="623.5" y="551.5" width="5" height="38" fill="#fff" stroke="#ff0000"/>
<rect x="630" y="546" width="6" height="44" fill="#007c00"/>
<rect x="637.5" y="556.5" width="5" height="33" fill="#fff" stroke="#ff0000"/>
<rect x="644.5" y="556.5" width="5" height="33" fill="#fff" stroke="#ff0000"/>
<rect x="651.5" y="545.5" width="5" height="44" fill="#fff" stroke="#ff0000"/>
<rect x="658.5" y="548.5" width="5" height="41" fill="#fff" stroke="#ff0000"/>
<rect x="665.5" y="556.5" width="5" height="33" fill="#fff" stroke="#ff0000"/>
<rect x="672" y="558" width="6" height="32" fill="#007c00"/>
<rect x="679.5" y="555.5" width="5" height="34" fill="#fff" stroke="#ff0000"/>
<rect x="686" y="562" width="6" height="28" fill="#007c00"/>
<rect x="693.5" y="570.5" width="5" height="19" fill="#fff" stroke="#ff0000"/>
<rect x="700" y="569" width="6" height="21" fill="#007c00"/>
<rect x="707.5" y="566.5" width="5" height="23" fill="#fff" stroke="#ff0000"/>
<rect x="714.5" y="561.5" width="5" height="28" fill="#fff" stroke="#ff0000"/>
<rect x="721" y="556" width="6" height="34" fill="#007c00"/>
<rect x="728.5" y="559.5" width="5" height="30" fill="#fff" stroke="#ff0000"/>
<rect x="735.5" y="555.5" width="5" height="34" fill="#fff" stroke="#ff0000"/>
<rect x="742.5" y="560.5" width="5" height="29" fill="#fff" stroke="#ff0000"/>
<rect x="749" y="559" width="6" height="31" fill="#007c00"/>
<rect x="756.5" y="563.5" width="5" height="26" fill="#fff" stroke="#ff0000"/>
<rect x="763" y="558" width="6" height="32" fill="#007c00"/>
<rect x="770" y="564" width="6" height="26" fill="#007c00"/>
<rect x="777.5" y="567.5" width="5" height="22" fill="#fff" stroke="#ff0000"/>
<rect x="784" y="568" width="6" height="22" fill="#007c00"/>
<rect x="791" y="569" width="6" height="21" fill="#007c00"/>
<rect x="798.5" y="569.5" width="5" height="20" fill="#fff" stroke="#ff0000"/>
<rect x="805" y="569" width="6" height="21" fill="#007c00"/>
<rect x="812" y="564" width="6" height="26" fill="#007c00"/>
<rect x="819" y="569" width="6" height="21" fill="#007c00"/>
<rect x="826.5" y="572.5" width="5" height="17" fill="#fff" stroke="#ff0000"/>
<rect x="833.5" y="573.5" width="5" height="16" fill="#fff" stroke="#ff0000"/>
<rect x="840.5" y="575.5" width="5" height="14" fill="#fff" stroke="#ff0000"/>
<rect x="847.5" y="573.5" width="5" height="16" fill="#fff" stroke="#ff0000"/>
<rect x="854.5" y="568.5" width="5" height="21" fill="#fff" stroke="#ff0000"/>
<rect x="861.5" y="571.5" width="5" height="18" fill="#fff" stroke="#ff0000"/>
<rect x="868.5" y="570.5" width="5" height="19" fill="#fff" stroke="#ff0000"/>
<rect x="875" y="570" width="6" height="20" fill="#007c00"/>
<rect x="882.5" y="564.5" width="5" height="25" fill="#fff" stroke="#ff0000"/>
<rect x="889.5" y="564.5" width="5" height="25" fill="#fff" stroke="#ff0000"/>
<rect x="896.5" y="560.5" width="5" height="29" fill="#fff" stroke="#ff0000"/>
<rect x="903" y="557" width="6" height="33" fill="#007c00"/>
<rect x="910.5" y="565.5" width="5" height="24" fill="#fff" stroke="#ff0000"/>
<rect x="917" y="563" width="6" height="27" fill="#007c00"/>
<rect x="924" y="566" width="6" height="24" fill="#007c00"/>
<rect x="931.5" y="563.5" width="5" height="26" fill="#fff" stroke="#ff0000"/>
<rect x="938" y="566" width="6" height="24" fill="#007c00"/>
<rect x="945.5" y="566.5" width="5" height="23" fill="#fff" stroke="#ff0000"/>
<rect x="952.5" y="559.5" width="5" height="30" fill="#fff" stroke="#ff0000"/>
<rect x="959.5" y="562.5" width="5" height="27" fill="#fff" stroke="#ff0000"/>
<rect x="966.5" y="556.5" width="5" height="33" fill="#fff" stroke="#ff0000"/>
<rect x="73" y="454" width="1" height="5" fill="#ff0000"/>
<rect x="70.5" y="454.5" width="5" height="2" fill="#fff" stroke="#ff0000"/>
<rect x="80" y="451" width="1" height="3" fill="#ff0000"/>
<rect x="77.5" y="451.5" width="5" height="2" fill="#fff" stroke="#ff0000"/>
<rect x="87" y="446" width="1" height="6" fill="#ff0000"/>
<rect x="84.5" y="446.5" width="5" height="4" fill="#fff" stroke="#ff0000"/>
<rect x="94" y="442" width="1" height="4" fill="#ff0000"/>
<rect x="91.5" y="442.5" width="5" height="3" fill="#fff" stroke="#ff0000"/>
<rect x="101" y="439" width="1" height="4" fill="#ff0000"/>
<rect x="98.5" y="439.5" width="5" height="2" fill="#fff" stroke="#ff0000"/>
<rect x="108" y="436" width="1" height="3" fill="#ff0000"/>
<rect x="105.5" y="436.5" width="5" height="2" fill="#fff" stroke="#ff0000"/>
<rect x="115" y="436" width="1" height="2" fill="#007c00"/>
<rect x="112" y="436" width="6" height="1" fill="#007c00"/>
<rect x="122" y="437" width="1" height="3" fill="#007c00"/>
<rect x="119" y="437" width="6" height="1" fill="#007c00"/>
<rect x="129" y="434" width="1" height="6" fill="#007c00"/>
<rect x="126" y="438" width="6" height="2" fill="#007c00"/>
<rect x="136" y="435" width="1" height="5" fill="#ff0000"/>
<rect x="133.5" y="435.5" width="5" height="3" fill="#fff" stroke="#ff0000"/>
<rect x="143" y="434" width="1" height="3" fill="#ff0000"/>
<rect x="140" y="434" width="6" height="2" fill="#ff0000"/>
<rect x="150" y="434" width="1" height="7" fill="#007c00"/>
<rect x="147" y="434" width="6" height="7" fill="#007c00"/>
<rect x="157" y="439" width="1" height="4" fill="#ff0000"/>
<rect x="154" y="439" width="6" height="2" fill="#ff0000"/>
<rect x="164" y="437" width="1" height="3" fill="#ff0000"/>
<rect x="161" y="438" width="6" height="2" fill="#ff0000"/>
<rect x="171" y="435" width="1" height="4" fill="#ff0000"/>
<rect x="168" y="436" width="6" height="2" fill="#ff0000"/>
<rect x="178" y="437" width="1" height="6" fill="#007c00"/>
<rect x="175" y="437" width="6" height="5" fill="#007c00"/>
<rect x="185" y="439" width="1" height="3" fill="#ff0000"/>
<rect x="182.5" y="439.5" width="5" height="2" fill="#fff" stroke="#ff0000"/>
<rect x="192" y="433" width="1" height="8" fill="#ff0000"/>
<rect x="189.5" y="433.5" width="5" height="6" fill="#fff" stroke="#ff0000"/>
<rect x="199" y="431" width="1" height="3" fill="#007c00"/>
<rect x="196" y="432" width="6" height="1" fill="#007c00"/>
<rect x="206" y="432" width="1" height="4" fill="#ff0000"/>
<rect x="203" y="433" width="6" height="1" fill="#ff0000"/>
<rect x="213" y="430" width="1" height="3" fill="#ff0000"/>
<rect x="210" y="431" width="6" height="1" fill="#ff0000"/>
<rect x="220" y="430" width="1" height="2" fill="#ff0000"/>
<rect x="217" y="430" width="6" height="1" fill="#ff0000"/>
<rect x="227" y="427" width="1" height="4" fill="#ff0000"/>
<rect x="224" y="427" width="6" height="2" fill="#ff0000"/>
<rect x="234" y="425" width="1" height="4" fill="#ff0000"/>
<rect x="231" y="426" width="6" height="1" fill="#ff0000"/>
<rect x="241" y="427" width="1" height="3" fill="#007c00"/>
<rect x="238" y="427" width="6" height="1" fill="#007c00"/>
<rect x="248" y="430" width="1" height="4" fill="#007c00"/>
<rect x="255" y="429" width="1" height="3" fill="#007c00"/>
<rect x="252" y="430" width="6" height="1" fill="#007c00"/>
<rect x="262" y="428" width="1" height="5" fill="#ff0000"/>
<rect x="259.5" y="428.5" width="5" height="2" fill="#fff" stroke="#ff0000"/>
<rect x="269" y="427" width="1" height="5" fill="#007c00"/>
<rect x="266" y="430" width="6" height="1" fill="#007c00"/>
<rect x="276" y="431" width="1" height="7" fill="#007c00"/>
<rect x="273" y="432" width="6" height="2" fill="#007c00"/>
<rect x="283" y="431" width="1" height="3" fill="#ff0000"/>
<rect x="280" y="431" width="6" height="2" fill="#ff0000"/>
<rect x="290" y="431" width="1" height="3" fill="#007c00"/>
<rect x="287" y="431" width="6" height="3" fill="#007c00"/>
<rect x="297" y="433" width="1" height="3" fill="#007c00"/>
<rect x="294" y="434" width="6" height="2" fill="#007c00"/>
<rect x="304" y="437" width="1" height="4" fill="#007c00"/>
<rect x="301" y="437" width="6" height="3" fill="#007c00"/>
<rect x="311" y="439" width="1" height="2" fill="#007c00"/>
<rect x="308" y="440" width="6" height="1" fill="#007c00"/>
<rect x="318" y="441" width="1" height="3" fill="#007c00"/>
<rect x="315" y="441" width="6" height="2" fill="#007c00"/>
<rect x="325" y="434" width="1" height="7" fill="#ff0000"/>
<rect x="322.5" y="434.5" width="5" height="6" fill="#fff" stroke="#ff0000"/>
<rect x="332" y="427" width="1" height="7" fill="#ff0000"/>
<rect x="329.5" y="428.5" width="5" height="3" fill="#fff" stroke="#ff0000"/>
<rect x="339" y="424" width="1" height="6" fill="#ff0000"/>
<rect x="336.5" y="425.5" width="5" height="3" fill="#fff" stroke="#ff0000"/>
<rect x="346" y="420" width="1" height="6" fill="#ff0000"/>
<rect x="343.5" y="420.5" width="5" height="4" fill="#fff" stroke="#ff0000"/>
<rect x="353" y="418" width="1" height="2" fill="#ff0000"/>
<rect x="350" y="419" width="6" height="1" fill="#ff0000"/>
<rect x="360" y="418" width="1" height="2" fill="#ff0000"/>
<rect x="357" y="419" width="6" height="1" fill="#ff0000"/>
<rect x="367" y="418" width="1" height="3" fill="#007c00"/>
<rect x="364" y="418" width="6" height="3" fill="#007c00"/>
<rect x="374" y="419" width="1" height="5" fill="#ff0000"/>
<rect x="371" y="420" width="6" height="1" fill="#ff0000"/>
<rect x="381" y="417" width="1" height="6" fill="#007c00"/>
<rect x="378" y="420" width="6" height="1" fill="#007c00"/>
<rect x="388" y="411" width="1" height="7" fill="#ff0000"/>
<rect x="385.5" y="412.5" width="5" height="4" fill="#fff" stroke="#ff0000"/>
<rect x="395" y="407" width="1" height="8" fill="#007c00"/>
<rect x="392" y="410" width="6" height="2" fill="#007c00"/>
<rect x="402" y="409" width="1" height="7" fill="#ff0000"/>
<rect x="399.5" y="409.5" width="5" height="4" fill="#fff" stroke="#ff0000"/>
<rect x="409" y="407" width="1" height="5" fill="#007c00"/>
<rect x="406" y="408" width="6" height="2" fill="#007c00"/>
<rect x="416" y="410" width="1" height="4" fill="#ff0000"/>
<rect x="413" y="411" width="6" height="1" fill="#ff0000"/>
<rect x="423" y="406" width="1" height="5" fill="#007c00"/>
<rect x="420" y="406" width="6" height="5" fill="#007c00"/>
<rect x="430" y="410" width="1" height="6" fill="#007c00"/>
<rect x="427" y="410" width="6" height="4" fill="#007c00"/>
<rect x="437" y="415" width="1" height="2" fill="#007c00"/>
<rect x="434" y="415" width="6" height="1" fill="#007c00"/>
<rect x="444" y="414" width="1" height="4" fill="#ff0000"/>
<rect x="441" y="415" width="6" height="2" fill="#ff0000"/>
<rect x="451" y="409" width="1" height="7" fill="#ff0000"/>
<rect x="448.5" y="409.5" width="5" height="5" fill="#fff" stroke="#ff0000"/>
<rect x="458" y="399" width="1" height="8" fill="#ff0000"/>
<rect x="455.5" y="402.5" width="5" height="3" fill="#fff" stroke="#ff0000"/>
<rect x="465" y="396" width="1" height="7" fill="#ff0000"/>
<rect x="462.5" y="396.5" width="5" height="5" fill="#fff" stroke="#ff0000"/>
<rect x="472" y="390" width="1" height="4" fill="#ff0000"/>
<rect x="469.5" y="390.5" width="5" height="3" fill="#fff" stroke="#ff0000"/>
<rect x="479" y="386" width="1" height="4" fill="#ff0000"/>
<rect x="476.5" y="386.5" width="5" height="1" fill="#fff" stroke="#ff0000"/>
<rect x="486" y="378" width="1" height="9" fill="#ff0000"/>
<rect x="483.5" y="378.5" width="5" height="7" fill="#fff" stroke="#ff0000"/>
<rect x="493" y="371" width="1" height="8" fill="#007c00"/>
<rect x="490" y="375" width="6" height="2" fill="#007c00"/>
<rect x="500" y="361" width="1" height="19" fill="#ff0000"/>
<rect x="497.5" y="363.5" width="5" height="15" fill="#fff" stroke="#ff0000"/>
<rect x="507" y="353" width="1" height="15" fill="#ff0000"/>
<rect x="504" y="361" width="6" height="1" fill="#ff0000"/>
<rect x="514" y="340" width="1" height="22" fill="#ff0000"/>
<rect x="511.5" y="340.5" width="5" height="19" fill="#fff" stroke="#ff0000"/>
<rect x="521" y="327" width="1" height="28" fill="#ff0000"/>
<rect x="518" y="334" width="6" height="2" fill="#ff0000"/>
<rect x="528" y="317" width="1" height="27" fill="#ff0000"/>
<rect x="525.5" y="320.5" width="5" height="18" fill="#fff" stroke="#ff0000"/>
<rect x="535" y="309" width="1" height="41" fill="#007c00"/>
<rect x="532" y="325" width="6" height="22" fill="#007c00"/>
<rect x="542" y="334" width="1" height="22" fill="#ff0000"/>
<rect x="539.5" y="334.5" width="5" height="12" fill="#fff" stroke="#ff0000"/>
<rect x="549" y="329" width="1" height="13" fill="#ff0000"/>
<rect x="546" y="336" width="6" height="2" fill="#ff0000"/>
<rect x="556" y="330" width="1" height="8" fill="#ff0000"/>
<rect x="553" y="334" width="6" height="2" fill="#ff0000"/>
<rect x="563" y="330" width="1" height="12" fill="#ff0000"/>
<rect x="560.5" y="331.5" width="5" height="4" fill="#fff" stroke="#ff0000"/>
<rect x="570" y="320" width="1" height="12" fill="#ff0000"/>
<rect x="567.5" y="320.5" width="5" height="9" fill="#fff" stroke="#ff0000"/>
<rect x="577" y="311" width="1" height="14" fill="#ff0000"/>
<rect x="574.5" y="314.5" width="5" height="3" fill="#fff" stroke="#ff0000"/>
<rect x="584" y="310" width="1" height="9" fill="#007c00"/>
<rect x="581" y="313" width="6" height="1" fill="#007c00"/>
<rect x="591" y="304" width="1" height="17" fill="#ff0000"/>
<rect x="588.5" y="306.5" width="5" height="8" fill="#fff" stroke="#ff0000"/>
<rect x="598" y="293" width="1" height="16" fill="#007c00"/>
<rect x="595" y="302" width="6" height="1" fill="#007c00"/>
<rect x="605" y="302" width="1" height="17" fill="#007c00"/>
<rect x="602" y="310" width="6" height="8" fill="#007c00"/>
<rect x="612" y="316" width="1" height="19" fill="#007c00"/>
<rect x="609" y="317" width="6" height="11" fill="#007c00"/>
<rect x="619" y="311" width="1" height="18" fill="#ff0000"/>
<rect x="616.5" y="312.5" width="5" height="12" fill="#fff" stroke="#ff0000"/>
<rect x="626" y="296" width="1" height="17" fill="#ff0000"/>
<rect x="623.5" y="297.5" width="5" height="13" fill="#fff" stroke="#ff0000"/>
<rect x="633" y="287" width="1" height="16" fill="#007c00"/>
<rect x="630" y="288" width="6" height="8" fill="#007c00"/>
<rect x="640" y="292" width="1" height="10" fill="#ff0000"/>
<rect x="637" y="296" width="6" height="1" fill="#ff0000"/>
<rect x="647" y="284" width="1" height="13" fill="#ff0000"/>
<rect x="644.5" y="286.5" width="5" height="8" fill="#fff" stroke="#ff0000"/>
<rect x="654" y="262" width="1" height="19" fill="#ff0000"/>
<rect x="651.5" y="265.5" width="5" height="15" fill="#fff" stroke="#ff0000"/>
<rect x="661" y="258" width="1" height="15" fill="#ff0000"/>
<rect x="658.5" y="265.5" width="5" height="3" fill="#fff" stroke="#ff0000"/>
<rect x="668" y="261" width="1" height="10" fill="#ff0000"/>
<rect x="665.5" y="261.5" width="5" height="7" fill="#fff" stroke="#ff0000"/>
<rect x="675" y="261" width="1" height="15" fill="#007c00"/>
<rect x="672" y="262" width="6" height="13" fill="#007c00"/>
<rect x="682" y="256" width="1" height="23" fill="#ff0000"/>
<rect x="679" y="276" width="6" height="1" fill="#ff0000"/>
<rect x="689" y="279" width="1" height="13" fill="#007c00"/>
<rect x="686" y="281" width="6" height="4" fill="#007c00"/>
<rect x="696" y="280" width="1" height="8" fill="#ff0000"/>
<rect x="693" y="284" width="6" height="2" fill="#ff0000"/>
<rect x="703" y="280" width="1" height="11" fill="#007c00"/>
<rect x="700" y="283" width="6" height="4" fill="#007c00"/>
<rect x="710" y="267" width="1" height="22" fill="#ff0000"/>
<rect x="707.5" y="268.5" width="5" height="17" fill="#fff" stroke="#ff0000"/>
<rect x="717" y="257" width="1" height="10" fill="#ff0000"/>
<rect x="714.5" y="261.5" width="5" height="4" fill="#fff" stroke="#ff0000"/>
<rect x="724" y="281" width="1" height="27" fill="#007c00"/>
<rect x="721" y="292" width="6" height="12" fill="#007c00"/>
<rect x="731" y="292" width="1" height="15" fill="#ff0000"/>
<rect x="728.5" y="295.5" width="5" height="9" fill="#fff" stroke="#ff0000"/>
<rect x="738" y="267" width="1" height="27" fill="#ff0000"/>
<rect x="735.5" y="270.5" width="5" height="20" fill="#fff" stroke="#ff0000"/>
<rect x="745" y="265" width="1" height="10" fill="#ff0000"/>
<rect x="742.5" y="266.5" width="5" height="2" fill="#fff" stroke="#ff0000"/>
<rect x="752" y="257" width="1" height="12" fill="#007c00"/>
<rect x="749" y="264" width="6" height="1" fill="#007c00"/>
<rect x="759" y="259" width="1" height="11" fill="#ff0000"/>
<rect x="756.5" y="260.5" width="5" height="5" fill="#fff" stroke="#ff0000"/>
<rect x="766" y="259" width="1" height="16" fill="#007c00"/>
<rect x="763" y="259" width="6" height="5" fill="#007c00"/>
<rect x="773" y="265" width="1" height="10" fill="#007c00"/>
<rect x="770" y="269" width="6" height="4" fill="#007c00"/>
<rect x="780" y="276" width="1" height="9" fill="#ff0000"/>
<rect x="777" y="280" width="6" height="1" fill="#ff0000"/>
<rect x="787" y="277" width="1" height="12" fill="#007c00"/>
<rect x="784" y="278" width="6" height="11" fill="#007c00"/>
<rect x="794" y="295" width="1" height="8" fill="#007c00"/>
<rect x="791" y="299" width="6" height="3" fill="#007c00"/>
<rect x="801" y="289" width="1" height="13" fill="#ff0000"/>
<rect x="798.5" y="290.5" width="5" height="6" fill="#fff" stroke="#ff0000"/>
<rect x="808" y="285" width="1" height="10" fill="#007c00"/>
<rect x="805" y="288" width="6" height="7" fill="#007c00"/>
<rect x="815" y="282" width="1" height="19" fill="#007c00"/>
<rect x="812" y="282" width="6" height="19" fill="#007c00"/>
<rect x="822" y="304" width="1" height="11" fill="#007c00"/>
<rect x="819" y="305" width="6" height="6" fill="#007c00"/>
<rect x="829" y="304" width="1" height="12" fill="#ff0000"/>
<rect x="826.5" y="308.5" width="5" height="4" fill="#fff" stroke="#ff0000"/>
<rect x="836" y="300" width="1" height="10" fill="#ff0000"/>
<rect x="833.5" y="300.5" width="5" height="8" fill="#fff" stroke="#ff0000"/>
<rect x="843" y="296" width="1" height="4" fill="#ff0000"/>
<rect x="840" y="297" width="6" height="2" fill="#ff0000"/>
<rect x="850" y="293" width="1" height="8" fill="#ff0000"/>
<rect x="847" y="295" width="6" height="2" fill="#ff0000"/>
<rect x="857" y="284" width="1" height="9" fill="#ff0000"/>
<rect x="854.5" y="290.5" width="5" height="2" fill="#fff" stroke="#ff0000"/>
<rect x="864" y="286" width="1" height="4" fill="#ff0000"/>
<rect x="861" y="287" width="6" height="2" fill="#ff0000"/>
<rect x="871" y="281" width="1" height="4" fill="#ff0000"/>
<rect x="868" y="283" width="6" height="2" fill="#ff0000"/>
<rect x="878" y="281" width="1" height="7" fill="#007c00"/>
<rect x="875" y="281" width="6" height="5" fill="#007c00"/>
<rect x="885" y="274" width="1" height="16" fill="#ff0000"/>
<rect x="882.5" y="274.5" width="5" height="12" fill="#fff" stroke="#ff0000"/>
<rect x="892" y="270" width="1" height="5" fill="#ff0000"/>
<rect x="889" y="272" width="6" height="2" fill="#ff0000"/>
<rect x="899" y="268" width="1" height="6" fill="#ff0000"/>
<rect x="896" y="268" width="6" height="1" fill="#ff0000"/>
<rect x="906" y="271" width="1" height="9" fill="#007c00"/>
<rect x="903" y="271" width="6" height="9" fill="#007c00"/>
<rect x="913" y="276" width="1" height="6" fill="#ff0000"/>
<rect x="910.5" y="277.5" width="5" height="2" fill="#fff" stroke="#ff0000"/>
<rect x="920" y="280" width="1" height="7" fill="#007c00"/>
<rect x="917" y="280" width="6" height="2" fill="#007c00"/>
<rect x="927" y="280" width="1" height="5" fill="#007c00"/>
<rect x="924" y="282" width="6" height="1" fill="#007c00"/>
<rect x="934" y="272" width="1" height="19" fill="#ff0000"/>
<rect x="931.5" y="273.5" width="5" height="12" fill="#fff" stroke="#ff0000"/>
<rect x="941" y="273" width="1" height="4" fill="#007c00"/>
<rect x="938" y="275" width="6" height="1" fill="#007c00"/>
<rect x="948" y="269" width="1" height="8" fill="#ff0000"/>
<rect x="945" y="275" width="6" height="1" fill="#ff0000"/>
<rect x="955" y="264" width="1" height="10" fill="#ff0000"/>
<rect x="952.5" y="265.5" width="5" height="4" fill="#fff" stroke="#ff0000"/>
<rect x="962" y="258" width="1" height="7" fill="#ff0000"/>
<rect x="959.5" y="261.5" width="5" height="2" fill="#fff" stroke="#ff0000"/>
<rect x="969" y="249" width="1" height="12" fill="#ff0000"/>
<rect x="966.5" y="249.5" width="5" height="8" fill="#fff" stroke="#ff0000"/>
<rect x="73" y="659" width="1" height="5" fill="#007c00"/>
<rect x="80" y="659" width="1" height="4" fill="#007c00"/>
<rect x="87" y="659" width="1" height="2" fill="#007c00"/>
<rect x="101" y="658" width="1" height="2" fill="#ff0000"/>
<rect x="108" y="656" width="1" height="4" fill="#ff0000"/>
<rect x="115" y="656" width="1" height="4" fill="#ff0000"/>
<rect x="122" y="656" width="1" height="4" fill="#ff0000"/>
<rect x="129" y="657" width="1" height="3" fill="#ff0000"/>
<rect x="136" y="657" width="1" height="3" fill="#ff0000"/>
<rect x="143" y="657" width="1" height="3" fill="#ff0000"/>
<rect x="164" y="659" width="1" height="1" fill="#007c00"/>
<rect x="171" y="659" width="1" height="1" fill="#007c00"/>
<rect x="178" y="659" width="1" height="3" fill="#007c00"/>
<rect x="185" y="659" width="1" height="3" fill="#007c00"/>
<rect x="192" y="659" width="1" height="2" fill="#007c00"/>
<rect x="199" y="659" width="1" height="1" fill="#007c00"/>
<rect x="206" y="659" width="1" height="1" fill="#007c00"/>
<rect x="234" y="657" width="1" height="3" fill="#ff0000"/>
<rect x="255" y="659" width="1" height="1" fill="#007c00"/>
<rect x="262" y="659" width="1" height="1" fill="#007c00"/>
<rect x="269" y="659" width="1" height="2" fill="#007c00"/>
<rect x="276" y="659" width="1" height="4" fill="#007c00"/>
<rect x="283" y="659" width="1" height="4" fill="#007c00"/>
<rect x="290" y="659" width="1" height="5" fill="#007c00"/>
<rect x="297" y="659" width="1" height="6" fill="#007c00"/>
<rect x="304" y="659" width="1" height="7" fill="#007c00"/>
<rect x="311" y="659" width="1" height="8" fill="#007c00"/>
<rect x="318" y="659" width="1" height="8" fill="#007c00"/>
<rect x="325" y="659" width="1" height="5" fill="#007c00"/>
<rect x="332" y="659" width="1" height="3" fill="#007c00"/>
<rect x="339" y="659" width="1" height="1" fill="#007c00"/>
<rect x="346" y="658" width="1" height="2" fill="#ff0000"/>
<rect x="353" y="656" width="1" height="4" fill="#ff0000"/>
<rect x="360" y="655" width="1" height="5" fill="#ff0000"/>
<rect x="367" y="655" width="1" height="5" fill="#ff0000"/>
<rect x="374" y="655" width="1" height="5" fill="#ff0000"/>
<rect x="381" y="656" width="1" height="4" fill="#ff0000"/>
<rect x="388" y="655" width="1" height="5" fill="#ff0000"/>
<rect x="395" y="654" width="1" height="6" fill="#ff0000"/>
<rect x="402" y="654" width="1" height="6" fill="#ff0000"/>
<rect x="409" y="654" width="1" height="6" fill="#ff0000"/>
<rect x="416" y="655" width="1" height="5" fill="#ff0000"/>
<rect x="423" y="656" width="1" height="4" fill="#ff0000"/>
<rect x="430" y="658" width="1" height="2" fill="#ff0000"/>
<rect x="444" y="659" width="1" height="1" fill="#007c00"/>
<rect x="451" y="659" width="1" height="1" fill="#007c00"/>
<rect x="465" y="656" width="1" height="4" fill="#ff0000"/>
<rect x="472" y="653" width="1" height="7" fill="#ff0000"/>
<rect x="479" y="651" width="1" height="9" fill="#ff0000"/>
<rect x="486" y="648" width="1" height="12" fill="#ff0000"/>
<rect x="493" y="648" width="1" height="12" fill="#ff0000"/>
<rect x="500" y="645" width="1" height="15" fill="#ff0000"/>
<rect x="507" y="643" width="1" height="17" fill="#ff0000"/>
<rect x="514" y="638" width="1" height="22" fill="#ff0000"/>
<rect x="521" y="635" width="1" height="25" fill="#ff0000"/>
<rect x="528" y="632" width="1" height="28" fill="#ff0000"/>
<rect x="535" y="639" width="1" height="21" fill="#ff0000"/>
<rect x="542" y="641" width="1" height="19" fill="#ff0000"/>
<rect x="549" y="645" width="1" height="15" fill="#ff0000"/>
<rect x="556" y="648" width="1" height="12" fill="#ff0000"/>
<rect x="563" y="651" width="1" height="9" fill="#ff0000"/>
<rect x="570" y="651" width="1" height="9" fill="#ff0000"/>
<rect x="577" y="650" width="1" height="10" fill="#ff0000"/>
<rect x="584" y="652" width="1" height="8" fill="#ff0000"/>
<rect x="591" y="651" width="1" height="9" fill="#ff0000"/>
<rect x="598" y="652" width="1" height="8" fill="#ff0000"/>
<rect x="605" y="657" width="1" height="3" fill="#ff0000"/>
<rect x="612" y="659" width="1" height="3" fill="#007c00"/>
<rect x="619" y="659" width="1" height="5" fill="#007c00"/>
<rect x="626" y="659" width="1" height="1" fill="#007c00"/>
<rect x="640" y="659" width="1" height="1" fill="#007c00"/>
<rect x="654" y="653" width="1" height="7" fill="#ff0000"/>
<rect x="661" y="651" width="1" height="9" fill="#ff0000"/>
<rect x="668" y="650" width="1" height="10" fill="#ff0000"/>
<rect x="675" y="654" width="1" height="6" fill="#ff0000"/>
<rect x="682" y="658" width="1" height="2" fill="#ff0000"/>
<rect x="689" y="659" width="1" height="4" fill="#007c00"/>
<rect x="696" y="659" width="1" height="8" fill="#007c00"/>
<rect x="703" y="659" width="1" height="12" fill="#007c00"/>
<rect x="710" y="659" width="1" height="8" fill="#007c00"/>
<rect x="717" y="659" width="1" height="7" fill="#007c00"/>
<rect x="724" y="659" width="1" height="16" fill="#007c00"/>
<rect x="731" y="659" width="1" height="20" fill="#007c00"/>
<rect x="738" y="659" width="1" height="15" fill="#007c00"/>
<rect x="745" y="659" width="1" height="11" fill="#007c00"/>
<rect x="752" y="659" width="1" height="8" fill="#007c00"/>
<rect x="759" y="659" width="1" height="6" fill="#007c00"/>
<rect x="766" y="659" width="1" height="6" fill="#007c00"/>
<rect x="773" y="659" width="1" height="8" fill="#007c00"/>
<rect x="780" y="659" width="1" height="11" fill="#007c00"/>
<rect x="787" y="659" width="1" height="15" fill="#007c00"/>
<rect x="794" y="659" width="1" height="21" fill="#007c00"/>
<rect x="801" y="659" width="1" height="20" fill="#007c00"/>
<rect x="808" y="659" width="1" height="21" fill="#007c00"/>
<rect x="815" y="659" width="1" height="22" fill="#007c00"/>
<rect x="822" y="659" width="1" height="25" fill="#007c00"/>
<rect x="829" y="659" width="1" height="25" fill="#007c00"/>
<rect x="836" y="659" width="1" height="21" fill="#007c00"/>
<rect x="843" y="659" width="1" height="18" fill="#007c00"/>
<rect x="850" y="659" width="1" height="14" fill="#007c00"/>
<rect x="857" y="659" width="1" height="10" fill="#007c00"/>
<rect x="864" y="659" width="1" height="5" fill="#007c00"/>
<rect x="871" y="659" width="1" height="2" fill="#007c00"/>
<rect x="885" y="656" width="1" height="4" fill="#ff0000"/>
<rect x="892" y="654" width="1" height="6" fill="#ff0000"/>
<rect x="899" y="653" width="1" height="7" fill="#ff0000"/>
<rect x="906" y="653" width="1" height="7" fill="#ff0000"/>
<rect x="913" y="655" width="1" height="5" fill="#ff0000"/>
<rect x="920" y="657" width="1" height="3" fill="#ff0000"/>
<rect x="934" y="658" width="1" height="2" fill="#ff0000"/>
<rect x="941" y="658" width="1" height="2" fill="#ff0000"/>
<rect x="948" y="658" width="1" height="2" fill="#ff0000"/>
<rect x="955" y="656" width="1" height="4" fill="#ff0000"/>
<rect x="962" y="654" width="1" height="6" fill="#ff0000"/>
<rect x="969" y="649" width="1" height="11" fill="#ff0000"/>
<rect x="976" y="647" width="1" height="13" fill="#ff0000"/>
<rect x="983" y="648" width="1" height="12" fill="#ff0000"/>
<rect x="990" y="649" width="1" height="11" fill="#ff0000"/>
<rect x="997" y="650" width="1" height="10" fill="#ff0000"/>
<rect x="1004" y="652" width="1" height="8" fill="#ff0000"/>
<rect x="1011" y="653" width="1" height="7" fill="#ff0000"/>
<rect x="1018" y="655" width="1" height="5" fill="#ff0000"/>
<rect x="1025" y="657" width="1" height="3" fill="#ff0000"/>
<rect x="1032" y="658" width="1" height="2" fill="#ff0000"/>
<rect x="1046" y="659" width="1" height="1" fill="#007c00"/>
<rect x="1046" y="659" width="2" height="1" fill="#007c00"/>
<rect x="1053" y="659" width="1" height="2" fill="#007c00"/>
<rect x="1053" y="659" width="2" height="1" fill="#007c00"/>
<rect x="1060" y="659" width="1" height="3" fill="#007c00"/>
<rect x="1060" y="659" width="2" height="1" fill="#007c00"/>
<rect x="1067" y="659" width="1" height="4" fill="#007c00"/>
<rect x="1067" y="659" width="2" height="1" fill="#007c00"/>
<rect x="1074" y="659" width="1" height="5" fill="#007c00"/>
<rect x="1074" y="659" width="2" height="1" fill="#007c00"/>
<rect x="1081" y="659" width="1" height="5" fill="#007c00"/>
<rect x="1081" y="659" width="2" height="1" fill="#007c00"/>
<rect x="1088" y="659" width="1" height="5" fill="#007c00"/>
<rect x="1088" y="659" width="2" height="1" fill="#007c00"/>
<rect x="1095" y="659" width="1" height="5" fill="#007c00"/>
<rect x="1095" y="659" width="2" height="1" fill="#007c00"/>
<rect x="1102" y="659" width="1" height="5" fill="#007c00"/>
<rect x="1102" y="659" width="2" height="1" fill="#007c00"/>
<rect x="1109" y="659" width="1" height="5" fill="#007c00"/>
<rect x="1109" y="659" width="2" height="1" fill="#007c00"/>
<rect x="1116" y="659" width="1" height="5" fill="#007c00"/>
<rect x="1116" y="659" width="2" height="1" fill="#007c00"/>
<rect x="1123" y="659" width="1" height="5" fill="#007c00"/>
<rect x="1123" y="659" width="2" height="1" fill="#007c00"/>
<rect x="1130" y="659" width="1" height="5" fill="#007c00"/>
<rect x="1130" y="659" width="2" height="1" fill="#007c00"/>
<rect x="1137" y="659" width="1" height="5" fill="#007c00"/>
<rect x="1137" y="659" width="2" height="1" fill="#007c00"/>
<rect x="1144" y="659" width="1" height="5" fill="#007c00"/>
<rect x="1144" y="659" width="2" height="1" fill="#007c00"/>
<rect x="1151" y="659" width="1" height="5" fill="#007c00"/>
<rect x="1151" y="659" width="2" height="1" fill="#007c00"/>
<rect x="1158" y="659" width="1" height="5" fill="#007c00"/>
<rect x="1158" y="659" width="2" height="1" fill="#007c00"/>
<rect x="1165" y="659" width="1" height="5" fill="#007c00"/>
<rect x="1165" y="659" width="2" height="1" fill="#007c00"/>
<rect x="1172" y="659" width="1" height="5" fill="#007c00"/>
<rect x="1172" y="659" width="2" height="1" fill="#007c00"/>
<rect x="1179" y="659" width="1" height="5" fill="#007c00"/>
<rect x="1179" y="659" width="2" height="1" fill="#007c00"/>
<line x1="974" y1="249.5" x2="1181" y2="249.5" stroke="#808080" stroke-dasharray="6 2"/>
<polygon points="567,528 575,528 571,524" fill="#000"/>
<polyline points="73.0,505.5 144.5,500.7 195.0,498.3 253.0,489.8 313.4,485.5 360.0,485.2 383.4,483.9 418.4,483.9 462.2,480.4 492.8,478.0 500.0,479.8 511.8,483.4 521.0,485.6 535.1,493.0 546.8,495.1 584.1,493.6 610.4,494.5 634.0,493.9 647.1,491.3 668.2,486.8 699.7,484.0 718.1,482.9 736.5,484.7 762.7,478.4 800.0,470.1 810.5,469.2 823.6,470.6 834.2,468.5 855.2,457.9 870.9,444.0 878.8,435.6 892.0,430.4 926.1,421.7 935.3,421.2 962.9,408.0 989.2,396.2 1018.1,381.7 1031.2,372.0 1044.4,367.8 1057.5,359.4 1081.1,341.5 1108.8,329.6 1132.5,319.6 1155.0,308.4 1179.0,295.2" fill="none" stroke="#ff0000" stroke-width="1"/>
<polyline points="73.0,487.4 105.0,485.0 180.7,477.8 220.0,473.2 253.0,469.3 315.0,464.8 360.0,462.7 433.0,456.2 491.3,452.4 526.3,452.3 539.4,454.4 552.5,452.7 584.1,446.9 626.1,441.4 655.0,434.3 670.8,427.6 699.7,419.8 736.5,413.3 775.9,400.1 800.0,394.2 815.8,392.3 836.8,388.3 868.3,375.7 878.8,368.1 892.0,364.7 920.9,358.6 944.5,354.9 962.9,348.4 991.8,338.9 1023.3,329.2 1057.7,318.4 1082.6,307.1 1107.6,301.4 1132.5,294.7 1152.4,289.2 1179.0,278.5" fill="none" stroke="#0000ff" stroke-width="1"/>
<polyline points="73.0,468.4 132.0,461.0 215.0,450.6 270.0,444.2 320.0,442.0 365.0,437.5 420.0,431.1 470.0,426.7 500.0,421.2 526.3,413.3 586.7,396.2 620.9,384.4 657.6,368.6 689.2,353.6 718.1,342.3 736.5,336.3 763.0,325.0 790.0,313.7 819.6,304.6 852.0,297.9 889.4,291.7 914.3,288.4 950.0,284.7 970.4,281.4 1007.8,277.2 1057.7,273.0 1107.6,269.7 1145.0,265.5 1179.0,260.2" fill="none" stroke="#000" stroke-width="1"/>
<polyline points="73.0,458.4 132.0,448.0 220.0,432.9 265.0,427.4 320.0,424.6 345.0,421.0 365.0,419.6 400.0,413.6 430.0,410.2 450.0,409.0 480.0,403.9 500.0,398.5 520.0,389.3 535.0,379.8 555.0,372.0 560.0,370.0 590.0,357.0 605.0,349.0 620.0,341.6 635.0,334.2 647.0,328.0 665.0,315.0 690.0,300.8 724.8,283.3 744.7,273.3 764.7,263.6 789.6,252.6 814.6,242.0 839.5,235.5 857.0,234.1 876.9,238.3 889.4,238.1 909.3,234.7 934.3,233.6 950.0,234.3 970.4,232.3 995.3,233.8 1025.3,238.5 1057.7,240.5 1082.6,244.2 1112.6,247.2 1157.4,248.5 1179.0,247.3" fill="none" stroke="#0000ff" stroke-width="1"/>
<polyline points="73.0,441.5 132.0,432.0 220.0,417.3 273.0,410.6 320.0,409.3 365.0,403.8 420.0,393.0 450.0,389.9 480.0,384.9 500.0,378.5 515.0,369.8 525.0,362.3 535.0,351.7 545.0,344.9 565.0,336.1 590.0,323.4 605.0,313.6 625.0,303.5 640.0,293.5 650.0,284.5 660.0,278.0 670.0,271.8 682.4,263.3 690.0,258.1 705.0,248.7 717.0,240.5 724.8,235.0 744.7,223.2 764.7,210.5 787.1,197.4 802.1,191.5 814.6,185.2 827.0,180.6 837.0,178.4 852.0,179.5 864.4,182.9 878.2,189.0 889.4,189.4 904.3,187.6 934.3,186.9 950.0,189.3 958.0,189.9 970.4,189.2 995.3,194.9 1025.3,204.7 1045.2,207.4 1062.7,212.9 1082.6,219.9 1107.6,226.1 1132.5,229.5 1157.4,234.1 1179.0,235.3" fill="none" stroke="#ff0000" stroke-width="1"/>
<polyline points="73.0,652.3 100.0,649.9 125.0,646.9 145.0,646.9 165.0,648.6 185.0,649.9 210.0,649.4 230.0,648.4 255.0,648.9 275.0,650.6 295.0,653.8 312.5,657.6 325.0,658.3 337.4,656.3 357.4,651.6 382.3,649.9 409.7,646.9 424.7,646.6 439.7,648.4 454.6,648.4 472.1,643.6 489.5,637.4 507.0,629.9 519.5,619.9 528.2,614.9 534.4,615.9 546.9,614.2 561.8,615.4 576.8,612.9 589.3,611.4 598.0,610.0 606.0,613.0 615.0,616.9 640.0,615.7 650.0,612.9 669.8,607.5 684.8,611.2 703.5,620.2 717.2,619.2 732.2,629.7 749.6,629.9 769.6,629.4 787.0,637.4 799.5,645.8 807.0,648.6 819.5,655.3 832.0,660.4 849.4,661.1 864.3,658.6 881.8,656.1 899.3,650.6 916.6,651.1 933.1,652.1 955.2,649.3 971.7,643.3 988.3,639.7 1010.4,638.6 1029.7,640.2 1054.5,642.4 1079.4,645.2 1109.7,648.8 1137.3,651.3 1164.9,653.5 1179.0,654.8" fill="none" stroke="#000" stroke-width="1"/>
<polyline points="73.0,649.9 100.0,650.3 125.0,648.9 145.0,647.6 165.0,647.9 185.0,649.1 210.0,649.4 230.0,648.9 255.0,648.6 275.0,649.6 295.0,651.1 312.5,654.3 327.4,656.1 342.4,655.3 362.3,652.8 387.3,650.6 412.2,648.6 437.2,648.6 459.6,648.1 479.6,644.4 499.5,639.9 514.5,635.6 534.4,626.9 549.4,622.4 569.3,618.2 589.3,614.9 599.3,613.9 610.0,614.4 620.0,614.9 644.9,614.9 674.8,611.4 687.3,612.4 717.2,616.2 732.2,621.2 749.6,624.4 769.6,626.9 789.5,632.4 812.0,641.1 836.9,650.6 856.9,656.1 879.3,657.3 899.3,654.3 916.6,652.6 933.1,652.1 955.2,650.7 971.7,648.5 988.3,645.2 1004.9,641.9 1021.4,641.0 1038.0,640.5 1065.6,641.9 1093.2,644.6 1120.8,647.1 1148.3,649.6 1179.0,651.5" fill="none" stroke="#0000ff" stroke-width="1"/>
<polyline points="74.0,457.0 94.0,452.0" fill="none" stroke="#0000ff" stroke-width="1"/>
<polyline points="976.0,249.5 996.0,255.0" fill="none" stroke="#0000ff" stroke-width="1"/>
</g>
<text x="71" y="138.3" font-size="9" fill="#999" textLength="23" lengthAdjust="spacingAndGlyphs">08-29</text>
<text x="130" y="138.3" font-size="9" fill="#999" textLength="23" lengthAdjust="spacingAndGlyphs">09-15</text>
<text x="200" y="138.3" font-size="9" fill="#999" textLength="23" lengthAdjust="spacingAndGlyphs">09-29</text>
<text x="270" y="138.3" font-size="9" fill="#999" textLength="23" lengthAdjust="spacingAndGlyphs">10-20</text>
<text x="340" y="138.3" font-size="9" fill="#999" textLength="23" lengthAdjust="spacingAndGlyphs">11-03</text>
<text x="410" y="138.3" font-size="9" fill="#999" textLength="23" lengthAdjust="spacingAndGlyphs">11-17</text>
<text x="480" y="138.3" font-size="9" fill="#999" textLength="23" lengthAdjust="spacingAndGlyphs">12-01</text>
<text x="550" y="138.3" font-size="9" fill="#999" textLength="23" lengthAdjust="spacingAndGlyphs">12-15</text>
<text x="620" y="138.3" font-size="9" fill="#999" textLength="23" lengthAdjust="spacingAndGlyphs">12-29</text>
<text x="689" y="138.3" font-size="9" fill="#999" textLength="23" lengthAdjust="spacingAndGlyphs">01-14</text>
<text x="759" y="138.3" font-size="9" fill="#999" textLength="23" lengthAdjust="spacingAndGlyphs">01-28</text>
<text x="829" y="138.3" font-size="9" fill="#999" textLength="23" lengthAdjust="spacingAndGlyphs">02-11</text>
<text x="899" y="138.3" font-size="9" fill="#999" textLength="23" lengthAdjust="spacingAndGlyphs">03-04</text>
<text x="969" y="138.3" font-size="9" fill="#999" textLength="23" lengthAdjust="spacingAndGlyphs">03-18</text>
<text x="1039" y="138.3" font-size="9" fill="#999" textLength="23" lengthAdjust="spacingAndGlyphs">04-01</text>
<text x="1109" y="138.3" font-size="9" fill="#999" textLength="23" lengthAdjust="spacingAndGlyphs">04-15</text>
<text x="3" y="146" font-size="12" fill="#0000ff" textLength="31" lengthAdjust="spacingAndGlyphs" style='font-family:"Liberation Serif","Noto Serif CJK SC",serif' font-weight="500">日K线</text>
<text x="71" y="154" font-size="13" fill="#000" textLength="51" lengthAdjust="spacingAndGlyphs" style='font-family:"Liberation Serif","Noto Serif CJK SC",serif' font-weight="500">极反通道</text>
<text x="141.5" y="154.5" font-size="12" fill="#ff0000" textLength="69" lengthAdjust="spacingAndGlyphs">Tp=3819.0249</text>
<text x="219.5" y="154.5" font-size="12" fill="#0000ff" textLength="72" lengthAdjust="spacingAndGlyphs">Up=3533.6325</text>
<text x="299.5" y="154.5" font-size="12" fill="#000" textLength="71" lengthAdjust="spacingAndGlyphs">Md=3208.7067</text>
<text x="378.5" y="154.5" font-size="12" fill="#0000ff" textLength="71" lengthAdjust="spacingAndGlyphs">Dn=2774.9468</text>
<text x="457.5" y="154.5" font-size="12" fill="#ff0000" textLength="68" lengthAdjust="spacingAndGlyphs">Bt=2380.5346</text>
<text x="1140.5" y="154" font-size="13" fill="#0000ff" textLength="38" lengthAdjust="spacingAndGlyphs" style='font-family:"Liberation Serif","Noto Serif CJK SC",serif' stroke="#0000ff" stroke-width="0.3">1A0001</text>
<text x="1189" y="154" font-size="13" fill="#0000ff" textLength="50" lengthAdjust="spacingAndGlyphs" style='font-family:"Liberation Serif","Noto Serif CJK SC",serif' font-weight="500">上证指数</text>
<text x="94" y="455.5" font-size="11.5" fill="#1818ff" textLength="58" lengthAdjust="spacingAndGlyphs">2193.2600</text>
<text x="996.5" y="265" font-size="11.5" fill="#1818ff" textLength="59" lengthAdjust="spacingAndGlyphs">3449.6450</text>
<text x="14" y="522" font-size="11" fill="#303030" textLength="53" lengthAdjust="spacingAndGlyphs">1800.1124</text>
<text x="14" y="546" font-size="11" fill="#303030" textLength="53" lengthAdjust="spacingAndGlyphs">561453399</text>
<text x="14" y="562" font-size="11" fill="#303030" textLength="53" lengthAdjust="spacingAndGlyphs">374302266</text>
<text x="14" y="578" font-size="11" fill="#303030" textLength="53" lengthAdjust="spacingAndGlyphs">187151133</text>
<text x="3" y="604" font-size="12" fill="#0000ff" textLength="27" lengthAdjust="spacingAndGlyphs" style='font-family:"Liberation Serif","Noto Serif CJK SC",serif' stroke="#0000ff" stroke-width="0.35">MACD</text>
<text x="75.5" y="604" font-size="11" fill="#000" textLength="50" lengthAdjust="spacingAndGlyphs">DIF=27.05</text>
<text x="146" y="604" font-size="11" fill="#0000ff" textLength="55" lengthAdjust="spacingAndGlyphs">DEA=17.06</text>
<text x="217" y="604" font-size="11" fill="#ff00ff" textLength="64" lengthAdjust="spacingAndGlyphs">MACD=19.97</text>
<text x="67" y="616" font-size="11" fill="#303030" text-anchor="end" textLength="35" lengthAdjust="spacingAndGlyphs">143.02</text>
<text x="67" y="634" font-size="11" fill="#303030" text-anchor="end" textLength="29" lengthAdjust="spacingAndGlyphs">88.26</text>
<text x="67" y="652" font-size="11" fill="#303030" text-anchor="end" textLength="29" lengthAdjust="spacingAndGlyphs">33.50</text>
<text x="67" y="669" font-size="11" fill="#303030" text-anchor="end" textLength="35" lengthAdjust="spacingAndGlyphs">-21.25</text>
</svg>
</body></html>
